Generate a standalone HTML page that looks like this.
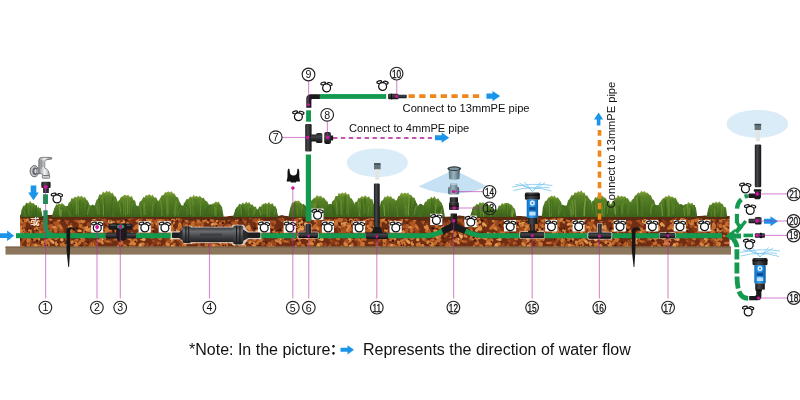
<!DOCTYPE html>
<html><head><meta charset="utf-8"><title>Irrigation system diagram</title>
<style>html,body{margin:0;padding:0;background:#fff}body{width:800px;height:400px;overflow:hidden}svg{display:block;will-change:transform}text{font-family:"Liberation Sans","Noto Sans CJK SC",sans-serif}</style></head>
<body><svg width="800" height="400" viewBox="0 0 800 400">
<defs><pattern id="soil" x="20" y="214" width="178" height="34" patternUnits="userSpaceOnUse"><rect width="178" height="34" fill="#6f2d14"/><ellipse cx="57.6" cy="5.1" rx="2.4" ry="1.1" fill="#98461b" transform="rotate(93 57.6 5.1)"/><ellipse cx="103.7" cy="30.9" rx="1.7" ry="1.1" fill="#b05621" transform="rotate(61 103.7 30.9)"/><ellipse cx="16.1" cy="14.4" rx="2.7" ry="1.1" fill="#d8853c" transform="rotate(160 16.1 14.4)"/><ellipse cx="103.8" cy="2.1" rx="2.3" ry="1.1" fill="#d8853c" transform="rotate(142 103.8 2.1)"/><ellipse cx="152.8" cy="9.8" rx="1.5" ry="1.1" fill="#b05621" transform="rotate(174 152.8 9.8)"/><ellipse cx="32.2" cy="19.8" rx="2.4" ry="1.4" fill="#98461b" transform="rotate(16 32.2 19.8)"/><ellipse cx="100.5" cy="21.0" rx="2.1" ry="1.6" fill="#a54f22" transform="rotate(119 100.5 21.0)"/><ellipse cx="104.2" cy="15.4" rx="1.8" ry="2.0" fill="#cc7633" transform="rotate(62 104.2 15.4)"/><ellipse cx="14.6" cy="10.2" rx="2.1" ry="1.4" fill="#e39b52" transform="rotate(155 14.6 10.2)"/><ellipse cx="174.5" cy="4.0" rx="2.0" ry="1.9" fill="#c56a2b" transform="rotate(125 174.5 4.0)"/><ellipse cx="-3.5" cy="4.0" rx="2.0" ry="1.9" fill="#c56a2b" transform="rotate(125 -3.5 4.0)"/><ellipse cx="75.1" cy="32.7" rx="1.4" ry="1.7" fill="#a54f22" transform="rotate(80 75.1 32.7)"/><ellipse cx="60.5" cy="11.9" rx="2.1" ry="2.0" fill="#c56a2b" transform="rotate(23 60.5 11.9)"/><ellipse cx="168.2" cy="16.1" rx="2.4" ry="1.1" fill="#cc7633" transform="rotate(165 168.2 16.1)"/><ellipse cx="102.9" cy="23.2" rx="2.1" ry="1.9" fill="#da8c44" transform="rotate(88 102.9 23.2)"/><ellipse cx="4.0" cy="15.7" rx="1.6" ry="1.1" fill="#c56a2b" transform="rotate(73 4.0 15.7)"/><ellipse cx="23.0" cy="8.4" rx="2.0" ry="2.0" fill="#c56a2b" transform="rotate(114 23.0 8.4)"/><ellipse cx="71.5" cy="9.4" rx="1.5" ry="1.5" fill="#98461b" transform="rotate(180 71.5 9.4)"/><ellipse cx="73.9" cy="12.2" rx="2.8" ry="2.1" fill="#c56a2b" transform="rotate(45 73.9 12.2)"/><ellipse cx="26.9" cy="22.4" rx="1.3" ry="2.0" fill="#d8853c" transform="rotate(72 26.9 22.4)"/><ellipse cx="0.7" cy="14.2" rx="1.9" ry="1.7" fill="#873815" transform="rotate(176 0.7 14.2)"/><ellipse cx="178.7" cy="14.2" rx="1.9" ry="1.7" fill="#873815" transform="rotate(176 178.7 14.2)"/><ellipse cx="152.9" cy="32.3" rx="2.4" ry="1.9" fill="#e39b52" transform="rotate(174 152.9 32.3)"/><ellipse cx="142.0" cy="13.3" rx="2.0" ry="1.1" fill="#cc7633" transform="rotate(15 142.0 13.3)"/><ellipse cx="33.9" cy="33.5" rx="2.0" ry="1.1" fill="#cc7633" transform="rotate(26 33.9 33.5)"/><ellipse cx="0.0" cy="5.1" rx="1.5" ry="1.4" fill="#c56a2b" transform="rotate(53 0.0 5.1)"/><ellipse cx="178.0" cy="5.1" rx="1.5" ry="1.4" fill="#c56a2b" transform="rotate(53 178.0 5.1)"/><ellipse cx="109.3" cy="5.1" rx="1.7" ry="1.4" fill="#b05621" transform="rotate(31 109.3 5.1)"/><ellipse cx="20.5" cy="16.6" rx="3.0" ry="1.6" fill="#b05621" transform="rotate(36 20.5 16.6)"/><ellipse cx="18.2" cy="11.6" rx="1.8" ry="2.0" fill="#d8853c" transform="rotate(5 18.2 11.6)"/><ellipse cx="36.5" cy="32.4" rx="1.9" ry="1.8" fill="#873815" transform="rotate(135 36.5 32.4)"/><ellipse cx="53.1" cy="21.9" rx="1.5" ry="2.0" fill="#98461b" transform="rotate(42 53.1 21.9)"/><ellipse cx="63.3" cy="7.6" rx="2.2" ry="1.6" fill="#cc7633" transform="rotate(156 63.3 7.6)"/><ellipse cx="144.4" cy="33.5" rx="2.7" ry="2.0" fill="#a54f22" transform="rotate(58 144.4 33.5)"/><ellipse cx="35.6" cy="16.8" rx="2.5" ry="2.2" fill="#a54f22" transform="rotate(120 35.6 16.8)"/><ellipse cx="46.1" cy="23.5" rx="2.9" ry="1.5" fill="#873815" transform="rotate(89 46.1 23.5)"/><ellipse cx="170.0" cy="12.4" rx="1.7" ry="1.3" fill="#d8853c" transform="rotate(52 170.0 12.4)"/><ellipse cx="85.9" cy="33.5" rx="2.3" ry="1.0" fill="#873815" transform="rotate(88 85.9 33.5)"/><ellipse cx="142.3" cy="2.9" rx="2.4" ry="2.1" fill="#a54f22" transform="rotate(51 142.3 2.9)"/><ellipse cx="85.1" cy="6.1" rx="2.6" ry="1.4" fill="#a54f22" transform="rotate(101 85.1 6.1)"/><ellipse cx="82.4" cy="25.3" rx="1.4" ry="1.2" fill="#ebb068" transform="rotate(7 82.4 25.3)"/><ellipse cx="26.9" cy="30.8" rx="2.7" ry="1.2" fill="#da8c44" transform="rotate(121 26.9 30.8)"/><ellipse cx="117.0" cy="11.9" rx="2.2" ry="1.2" fill="#c56a2b" transform="rotate(166 117.0 11.9)"/><ellipse cx="18.3" cy="25.5" rx="1.5" ry="2.2" fill="#d8853c" transform="rotate(54 18.3 25.5)"/><ellipse cx="5.0" cy="7.2" rx="2.2" ry="1.9" fill="#b05621" transform="rotate(139 5.0 7.2)"/><ellipse cx="74.6" cy="4.5" rx="2.8" ry="1.4" fill="#e39b52" transform="rotate(149 74.6 4.5)"/><ellipse cx="145.1" cy="17.6" rx="2.7" ry="2.1" fill="#c56a2b" transform="rotate(38 145.1 17.6)"/><ellipse cx="93.2" cy="0.6" rx="2.0" ry="1.2" fill="#c56a2b" transform="rotate(38 93.2 0.6)"/><ellipse cx="30.7" cy="16.1" rx="2.5" ry="1.7" fill="#b05621" transform="rotate(132 30.7 16.1)"/><ellipse cx="94.5" cy="16.4" rx="2.6" ry="2.1" fill="#c56a2b" transform="rotate(48 94.5 16.4)"/><ellipse cx="49.3" cy="26.3" rx="2.2" ry="1.7" fill="#a54f22" transform="rotate(16 49.3 26.3)"/><ellipse cx="78.9" cy="20.8" rx="2.2" ry="1.6" fill="#cc7633" transform="rotate(115 78.9 20.8)"/><ellipse cx="90.5" cy="27.5" rx="2.2" ry="1.3" fill="#98461b" transform="rotate(66 90.5 27.5)"/><ellipse cx="164.3" cy="30.4" rx="1.6" ry="1.5" fill="#b05621" transform="rotate(100 164.3 30.4)"/><ellipse cx="78.7" cy="2.5" rx="1.7" ry="1.1" fill="#cc7633" transform="rotate(31 78.7 2.5)"/><ellipse cx="159.7" cy="5.3" rx="2.5" ry="1.8" fill="#c56a2b" transform="rotate(35 159.7 5.3)"/><ellipse cx="172.2" cy="7.5" rx="2.9" ry="1.5" fill="#98461b" transform="rotate(170 172.2 7.5)"/><ellipse cx="148.2" cy="5.5" rx="2.0" ry="1.6" fill="#b05621" transform="rotate(50 148.2 5.5)"/><ellipse cx="63.5" cy="3.1" rx="1.9" ry="1.4" fill="#e39b52" transform="rotate(180 63.5 3.1)"/><ellipse cx="3.2" cy="11.3" rx="2.4" ry="1.6" fill="#c56a2b" transform="rotate(58 3.2 11.3)"/><ellipse cx="181.2" cy="11.3" rx="2.4" ry="1.6" fill="#c56a2b" transform="rotate(58 181.2 11.3)"/><ellipse cx="173.0" cy="3.6" rx="1.8" ry="1.0" fill="#a54f22" transform="rotate(69 173.0 3.6)"/><ellipse cx="134.5" cy="27.9" rx="2.7" ry="1.8" fill="#873815" transform="rotate(103 134.5 27.9)"/><ellipse cx="26.6" cy="31.3" rx="2.3" ry="1.8" fill="#c56a2b" transform="rotate(14 26.6 31.3)"/><ellipse cx="142.3" cy="6.2" rx="2.8" ry="1.3" fill="#c56a2b" transform="rotate(22 142.3 6.2)"/><ellipse cx="142.7" cy="2.8" rx="2.8" ry="1.1" fill="#da8c44" transform="rotate(116 142.7 2.8)"/><ellipse cx="2.1" cy="33.8" rx="2.0" ry="2.1" fill="#cc7633" transform="rotate(11 2.1 33.8)"/><ellipse cx="180.1" cy="33.8" rx="2.0" ry="2.1" fill="#cc7633" transform="rotate(11 180.1 33.8)"/><ellipse cx="93.8" cy="8.1" rx="1.5" ry="1.2" fill="#c56a2b" transform="rotate(51 93.8 8.1)"/><ellipse cx="165.9" cy="21.4" rx="2.2" ry="1.2" fill="#e39b52" transform="rotate(172 165.9 21.4)"/><ellipse cx="31.7" cy="11.8" rx="1.3" ry="1.3" fill="#c56a2b" transform="rotate(129 31.7 11.8)"/><ellipse cx="98.1" cy="6.4" rx="2.1" ry="2.1" fill="#c56a2b" transform="rotate(166 98.1 6.4)"/><ellipse cx="76.9" cy="16.8" rx="2.7" ry="1.5" fill="#98461b" transform="rotate(176 76.9 16.8)"/><ellipse cx="38.3" cy="7.8" rx="1.6" ry="2.1" fill="#a54f22" transform="rotate(35 38.3 7.8)"/><ellipse cx="72.0" cy="11.8" rx="1.4" ry="1.2" fill="#c56a2b" transform="rotate(65 72.0 11.8)"/><ellipse cx="76.7" cy="1.9" rx="2.4" ry="1.5" fill="#98461b" transform="rotate(72 76.7 1.9)"/><ellipse cx="106.6" cy="23.6" rx="1.4" ry="1.2" fill="#d8853c" transform="rotate(0 106.6 23.6)"/><ellipse cx="46.9" cy="32.7" rx="3.0" ry="1.7" fill="#d8853c" transform="rotate(79 46.9 32.7)"/><ellipse cx="38.8" cy="6.2" rx="1.9" ry="1.1" fill="#d8853c" transform="rotate(167 38.8 6.2)"/><ellipse cx="35.8" cy="17.2" rx="1.3" ry="1.3" fill="#c56a2b" transform="rotate(102 35.8 17.2)"/><ellipse cx="104.5" cy="13.4" rx="1.8" ry="1.8" fill="#c56a2b" transform="rotate(135 104.5 13.4)"/><ellipse cx="151.9" cy="5.3" rx="2.8" ry="1.9" fill="#cc7633" transform="rotate(83 151.9 5.3)"/><ellipse cx="128.3" cy="16.8" rx="1.8" ry="1.7" fill="#c56a2b" transform="rotate(131 128.3 16.8)"/><ellipse cx="111.7" cy="25.0" rx="2.7" ry="1.2" fill="#98461b" transform="rotate(129 111.7 25.0)"/><ellipse cx="101.2" cy="27.6" rx="1.3" ry="1.8" fill="#a54f22" transform="rotate(174 101.2 27.6)"/><ellipse cx="170.2" cy="21.9" rx="1.4" ry="1.1" fill="#cc7633" transform="rotate(26 170.2 21.9)"/><ellipse cx="67.0" cy="15.3" rx="1.4" ry="1.0" fill="#98461b" transform="rotate(62 67.0 15.3)"/><ellipse cx="87.1" cy="0.1" rx="2.7" ry="1.9" fill="#98461b" transform="rotate(137 87.1 0.1)"/><ellipse cx="16.4" cy="17.9" rx="2.6" ry="1.6" fill="#a54f22" transform="rotate(67 16.4 17.9)"/><ellipse cx="41.8" cy="25.7" rx="1.7" ry="1.8" fill="#e39b52" transform="rotate(97 41.8 25.7)"/><ellipse cx="13.7" cy="31.0" rx="1.8" ry="1.1" fill="#cc7633" transform="rotate(50 13.7 31.0)"/><ellipse cx="13.8" cy="5.0" rx="1.7" ry="1.9" fill="#b05621" transform="rotate(145 13.8 5.0)"/><ellipse cx="23.8" cy="16.4" rx="2.1" ry="2.2" fill="#c56a2b" transform="rotate(55 23.8 16.4)"/><ellipse cx="120.3" cy="9.9" rx="2.2" ry="1.6" fill="#e39b52" transform="rotate(30 120.3 9.9)"/><ellipse cx="176.8" cy="18.7" rx="1.8" ry="1.1" fill="#e39b52" transform="rotate(74 176.8 18.7)"/><ellipse cx="-1.2" cy="18.7" rx="1.8" ry="1.1" fill="#e39b52" transform="rotate(74 -1.2 18.7)"/><ellipse cx="81.7" cy="27.9" rx="2.9" ry="1.5" fill="#d8853c" transform="rotate(53 81.7 27.9)"/><ellipse cx="163.1" cy="31.6" rx="1.4" ry="1.1" fill="#a54f22" transform="rotate(67 163.1 31.6)"/><ellipse cx="169.6" cy="4.5" rx="2.7" ry="1.6" fill="#da8c44" transform="rotate(180 169.6 4.5)"/><ellipse cx="65.0" cy="16.9" rx="2.8" ry="1.5" fill="#c56a2b" transform="rotate(125 65.0 16.9)"/><ellipse cx="121.3" cy="13.8" rx="2.5" ry="1.5" fill="#b05621" transform="rotate(30 121.3 13.8)"/><ellipse cx="149.6" cy="0.1" rx="2.6" ry="2.0" fill="#c56a2b" transform="rotate(50 149.6 0.1)"/><ellipse cx="126.9" cy="30.7" rx="1.8" ry="1.4" fill="#b05621" transform="rotate(150 126.9 30.7)"/><ellipse cx="13.6" cy="31.5" rx="2.6" ry="2.0" fill="#b05621" transform="rotate(13 13.6 31.5)"/><ellipse cx="148.6" cy="9.7" rx="2.9" ry="1.3" fill="#d8853c" transform="rotate(130 148.6 9.7)"/><ellipse cx="56.2" cy="26.3" rx="2.6" ry="1.5" fill="#c56a2b" transform="rotate(161 56.2 26.3)"/><ellipse cx="71.2" cy="29.8" rx="2.2" ry="1.2" fill="#c56a2b" transform="rotate(105 71.2 29.8)"/><ellipse cx="80.3" cy="25.6" rx="2.4" ry="1.3" fill="#c56a2b" transform="rotate(140 80.3 25.6)"/><ellipse cx="22.7" cy="16.1" rx="1.9" ry="1.4" fill="#a54f22" transform="rotate(167 22.7 16.1)"/><ellipse cx="46.3" cy="22.3" rx="1.8" ry="1.7" fill="#b05621" transform="rotate(42 46.3 22.3)"/><ellipse cx="114.5" cy="2.6" rx="2.2" ry="2.0" fill="#98461b" transform="rotate(115 114.5 2.6)"/><ellipse cx="161.3" cy="33.9" rx="2.1" ry="1.2" fill="#d8853c" transform="rotate(23 161.3 33.9)"/><ellipse cx="31.1" cy="18.9" rx="1.8" ry="1.4" fill="#a54f22" transform="rotate(51 31.1 18.9)"/><ellipse cx="157.9" cy="25.5" rx="2.0" ry="1.5" fill="#98461b" transform="rotate(96 157.9 25.5)"/><ellipse cx="48.1" cy="25.6" rx="2.1" ry="1.7" fill="#b05621" transform="rotate(175 48.1 25.6)"/><ellipse cx="89.6" cy="21.4" rx="2.8" ry="1.3" fill="#d8853c" transform="rotate(63 89.6 21.4)"/><ellipse cx="68.5" cy="22.0" rx="2.0" ry="1.4" fill="#a54f22" transform="rotate(5 68.5 22.0)"/><ellipse cx="22.6" cy="14.5" rx="2.6" ry="2.0" fill="#873815" transform="rotate(125 22.6 14.5)"/><ellipse cx="0.0" cy="13.3" rx="2.9" ry="2.0" fill="#da8c44" transform="rotate(114 0.0 13.3)"/><ellipse cx="178.0" cy="13.3" rx="2.9" ry="2.0" fill="#da8c44" transform="rotate(114 178.0 13.3)"/><ellipse cx="44.2" cy="3.7" rx="1.6" ry="1.6" fill="#cc7633" transform="rotate(179 44.2 3.7)"/><ellipse cx="115.2" cy="26.0" rx="2.1" ry="1.7" fill="#c56a2b" transform="rotate(32 115.2 26.0)"/><ellipse cx="41.4" cy="31.3" rx="2.4" ry="1.4" fill="#c56a2b" transform="rotate(64 41.4 31.3)"/><ellipse cx="94.0" cy="14.9" rx="2.6" ry="1.1" fill="#b05621" transform="rotate(149 94.0 14.9)"/><ellipse cx="34.1" cy="8.9" rx="2.6" ry="1.0" fill="#98461b" transform="rotate(117 34.1 8.9)"/><ellipse cx="49.6" cy="10.8" rx="2.7" ry="1.3" fill="#98461b" transform="rotate(140 49.6 10.8)"/><ellipse cx="44.0" cy="32.7" rx="2.5" ry="1.4" fill="#c56a2b" transform="rotate(127 44.0 32.7)"/><ellipse cx="157.5" cy="22.0" rx="1.4" ry="1.3" fill="#e39b52" transform="rotate(94 157.5 22.0)"/><ellipse cx="40.4" cy="1.2" rx="1.9" ry="1.5" fill="#cc7633" transform="rotate(50 40.4 1.2)"/><ellipse cx="1.2" cy="9.9" rx="2.7" ry="1.1" fill="#98461b" transform="rotate(51 1.2 9.9)"/><ellipse cx="179.2" cy="9.9" rx="2.7" ry="1.1" fill="#98461b" transform="rotate(51 179.2 9.9)"/><ellipse cx="55.5" cy="27.9" rx="1.7" ry="1.3" fill="#a54f22" transform="rotate(75 55.5 27.9)"/><ellipse cx="19.4" cy="21.2" rx="2.3" ry="2.1" fill="#98461b" transform="rotate(170 19.4 21.2)"/><ellipse cx="10.0" cy="20.2" rx="2.9" ry="1.1" fill="#c56a2b" transform="rotate(152 10.0 20.2)"/><ellipse cx="25.3" cy="1.8" rx="1.4" ry="1.5" fill="#da8c44" transform="rotate(80 25.3 1.8)"/><ellipse cx="130.4" cy="33.9" rx="2.9" ry="1.4" fill="#d8853c" transform="rotate(134 130.4 33.9)"/><ellipse cx="132.8" cy="1.1" rx="2.4" ry="1.5" fill="#b05621" transform="rotate(84 132.8 1.1)"/><ellipse cx="78.8" cy="3.7" rx="1.4" ry="1.1" fill="#e39b52" transform="rotate(31 78.8 3.7)"/><ellipse cx="99.9" cy="25.8" rx="1.9" ry="1.9" fill="#b05621" transform="rotate(110 99.9 25.8)"/><ellipse cx="15.6" cy="24.0" rx="1.6" ry="1.6" fill="#e39b52" transform="rotate(82 15.6 24.0)"/><ellipse cx="64.8" cy="30.5" rx="1.4" ry="1.5" fill="#a54f22" transform="rotate(103 64.8 30.5)"/><ellipse cx="7.2" cy="1.2" rx="1.4" ry="2.1" fill="#d8853c" transform="rotate(16 7.2 1.2)"/><ellipse cx="159.9" cy="11.5" rx="1.8" ry="2.1" fill="#cc7633" transform="rotate(67 159.9 11.5)"/><ellipse cx="132.9" cy="23.4" rx="2.9" ry="1.4" fill="#a54f22" transform="rotate(152 132.9 23.4)"/><ellipse cx="163.1" cy="21.6" rx="2.9" ry="1.0" fill="#d8853c" transform="rotate(121 163.1 21.6)"/><ellipse cx="127.4" cy="15.8" rx="2.6" ry="1.9" fill="#873815" transform="rotate(126 127.4 15.8)"/><ellipse cx="23.6" cy="16.9" rx="1.3" ry="2.1" fill="#b05621" transform="rotate(177 23.6 16.9)"/><ellipse cx="137.6" cy="20.6" rx="1.9" ry="1.4" fill="#b05621" transform="rotate(152 137.6 20.6)"/><ellipse cx="14.1" cy="6.7" rx="2.6" ry="1.3" fill="#c56a2b" transform="rotate(8 14.1 6.7)"/><ellipse cx="85.7" cy="18.5" rx="1.6" ry="1.5" fill="#c56a2b" transform="rotate(18 85.7 18.5)"/><ellipse cx="47.2" cy="2.9" rx="1.5" ry="1.6" fill="#cc7633" transform="rotate(114 47.2 2.9)"/><ellipse cx="30.8" cy="4.5" rx="2.1" ry="2.1" fill="#d8853c" transform="rotate(137 30.8 4.5)"/><ellipse cx="150.8" cy="22.6" rx="1.5" ry="2.0" fill="#b05621" transform="rotate(145 150.8 22.6)"/><ellipse cx="47.6" cy="8.6" rx="1.7" ry="1.5" fill="#d8853c" transform="rotate(60 47.6 8.6)"/><ellipse cx="27.3" cy="30.1" rx="2.3" ry="1.4" fill="#b05621" transform="rotate(62 27.3 30.1)"/><ellipse cx="90.3" cy="7.9" rx="2.7" ry="1.8" fill="#ebb068" transform="rotate(26 90.3 7.9)"/><ellipse cx="0.8" cy="30.0" rx="1.7" ry="1.5" fill="#b05621" transform="rotate(75 0.8 30.0)"/><ellipse cx="178.8" cy="30.0" rx="1.7" ry="1.5" fill="#b05621" transform="rotate(75 178.8 30.0)"/><ellipse cx="41.5" cy="1.7" rx="2.3" ry="2.0" fill="#d8853c" transform="rotate(19 41.5 1.7)"/><ellipse cx="66.3" cy="29.4" rx="2.1" ry="1.3" fill="#a54f22" transform="rotate(1 66.3 29.4)"/><ellipse cx="18.8" cy="20.3" rx="2.4" ry="1.3" fill="#b05621" transform="rotate(36 18.8 20.3)"/><ellipse cx="7.9" cy="34.0" rx="1.4" ry="1.9" fill="#873815" transform="rotate(2 7.9 34.0)"/><ellipse cx="145.8" cy="13.9" rx="1.9" ry="1.7" fill="#c56a2b" transform="rotate(8 145.8 13.9)"/><ellipse cx="141.6" cy="18.6" rx="1.4" ry="1.1" fill="#b05621" transform="rotate(140 141.6 18.6)"/><ellipse cx="27.5" cy="18.2" rx="2.4" ry="1.5" fill="#d8853c" transform="rotate(72 27.5 18.2)"/><ellipse cx="118.9" cy="14.2" rx="1.4" ry="1.9" fill="#da8c44" transform="rotate(106 118.9 14.2)"/><ellipse cx="74.1" cy="29.4" rx="3.0" ry="1.4" fill="#d8853c" transform="rotate(103 74.1 29.4)"/><ellipse cx="36.3" cy="0.2" rx="2.8" ry="1.5" fill="#da8c44" transform="rotate(103 36.3 0.2)"/><ellipse cx="102.8" cy="12.4" rx="2.6" ry="1.2" fill="#c56a2b" transform="rotate(36 102.8 12.4)"/><ellipse cx="114.0" cy="30.9" rx="1.5" ry="1.7" fill="#b05621" transform="rotate(129 114.0 30.9)"/><ellipse cx="30.6" cy="11.8" rx="1.6" ry="1.2" fill="#c56a2b" transform="rotate(98 30.6 11.8)"/><ellipse cx="87.3" cy="27.4" rx="2.9" ry="1.2" fill="#c56a2b" transform="rotate(11 87.3 27.4)"/><ellipse cx="173.6" cy="16.4" rx="1.4" ry="2.1" fill="#b05621" transform="rotate(158 173.6 16.4)"/><ellipse cx="122.5" cy="30.3" rx="2.4" ry="2.0" fill="#cc7633" transform="rotate(157 122.5 30.3)"/><ellipse cx="150.7" cy="28.2" rx="1.6" ry="1.3" fill="#b05621" transform="rotate(132 150.7 28.2)"/><ellipse cx="27.9" cy="12.2" rx="1.6" ry="2.2" fill="#a54f22" transform="rotate(49 27.9 12.2)"/><ellipse cx="7.3" cy="19.1" rx="2.6" ry="1.0" fill="#da8c44" transform="rotate(30 7.3 19.1)"/><ellipse cx="69.4" cy="15.5" rx="2.7" ry="1.9" fill="#cc7633" transform="rotate(78 69.4 15.5)"/><ellipse cx="103.7" cy="14.5" rx="2.4" ry="1.5" fill="#e39b52" transform="rotate(5 103.7 14.5)"/><ellipse cx="0.6" cy="33.5" rx="2.1" ry="1.5" fill="#cc7633" transform="rotate(117 0.6 33.5)"/><ellipse cx="178.6" cy="33.5" rx="2.1" ry="1.5" fill="#cc7633" transform="rotate(117 178.6 33.5)"/><ellipse cx="148.9" cy="27.6" rx="2.0" ry="1.1" fill="#b05621" transform="rotate(93 148.9 27.6)"/><ellipse cx="16.3" cy="15.0" rx="2.2" ry="1.0" fill="#cc7633" transform="rotate(21 16.3 15.0)"/><ellipse cx="164.1" cy="10.7" rx="2.5" ry="1.1" fill="#a54f22" transform="rotate(96 164.1 10.7)"/><ellipse cx="116.2" cy="26.7" rx="1.3" ry="1.1" fill="#cc7633" transform="rotate(177 116.2 26.7)"/><ellipse cx="145.1" cy="6.6" rx="3.0" ry="1.6" fill="#873815" transform="rotate(42 145.1 6.6)"/><ellipse cx="122.1" cy="24.5" rx="1.7" ry="2.0" fill="#cc7633" transform="rotate(64 122.1 24.5)"/><ellipse cx="28.3" cy="30.5" rx="1.8" ry="2.0" fill="#c56a2b" transform="rotate(128 28.3 30.5)"/><ellipse cx="171.7" cy="16.3" rx="2.3" ry="1.7" fill="#d8853c" transform="rotate(95 171.7 16.3)"/><ellipse cx="6.6" cy="6.2" rx="1.6" ry="2.1" fill="#cc7633" transform="rotate(96 6.6 6.2)"/><ellipse cx="30.0" cy="26.7" rx="1.5" ry="1.6" fill="#cc7633" transform="rotate(92 30.0 26.7)"/><ellipse cx="172.0" cy="15.4" rx="2.2" ry="1.8" fill="#da8c44" transform="rotate(64 172.0 15.4)"/><ellipse cx="176.7" cy="21.4" rx="2.0" ry="2.0" fill="#d8853c" transform="rotate(94 176.7 21.4)"/><ellipse cx="-1.3" cy="21.4" rx="2.0" ry="2.0" fill="#d8853c" transform="rotate(94 -1.3 21.4)"/><ellipse cx="102.8" cy="12.2" rx="2.6" ry="1.5" fill="#d8853c" transform="rotate(12 102.8 12.2)"/><ellipse cx="52.8" cy="17.5" rx="1.8" ry="2.2" fill="#da8c44" transform="rotate(169 52.8 17.5)"/><ellipse cx="159.4" cy="24.9" rx="2.6" ry="1.3" fill="#b05621" transform="rotate(160 159.4 24.9)"/><ellipse cx="76.9" cy="17.4" rx="2.8" ry="1.2" fill="#d8853c" transform="rotate(167 76.9 17.4)"/><ellipse cx="8.1" cy="1.8" rx="2.3" ry="1.4" fill="#98461b" transform="rotate(136 8.1 1.8)"/><ellipse cx="39.9" cy="19.8" rx="2.3" ry="1.2" fill="#cc7633" transform="rotate(121 39.9 19.8)"/><ellipse cx="28.2" cy="0.5" rx="2.7" ry="1.8" fill="#e39b52" transform="rotate(16 28.2 0.5)"/><ellipse cx="113.6" cy="29.6" rx="2.6" ry="1.5" fill="#d8853c" transform="rotate(2 113.6 29.6)"/><ellipse cx="10.0" cy="27.9" rx="2.8" ry="1.7" fill="#98461b" transform="rotate(154 10.0 27.9)"/><ellipse cx="166.8" cy="24.9" rx="1.7" ry="2.1" fill="#c56a2b" transform="rotate(136 166.8 24.9)"/><ellipse cx="4.5" cy="6.3" rx="1.6" ry="2.1" fill="#c56a2b" transform="rotate(156 4.5 6.3)"/><ellipse cx="98.1" cy="32.0" rx="1.5" ry="1.2" fill="#cc7633" transform="rotate(129 98.1 32.0)"/><ellipse cx="115.3" cy="14.1" rx="2.3" ry="1.6" fill="#c56a2b" transform="rotate(160 115.3 14.1)"/><ellipse cx="8.6" cy="30.2" rx="2.6" ry="1.9" fill="#c56a2b" transform="rotate(111 8.6 30.2)"/><ellipse cx="132.6" cy="15.8" rx="2.6" ry="1.5" fill="#d8853c" transform="rotate(26 132.6 15.8)"/><ellipse cx="46.5" cy="21.9" rx="1.5" ry="2.1" fill="#873815" transform="rotate(67 46.5 21.9)"/><ellipse cx="126.7" cy="9.0" rx="2.2" ry="1.5" fill="#a54f22" transform="rotate(133 126.7 9.0)"/><ellipse cx="173.0" cy="10.1" rx="2.9" ry="2.1" fill="#c56a2b" transform="rotate(129 173.0 10.1)"/><ellipse cx="2.7" cy="8.9" rx="1.7" ry="1.9" fill="#873815" transform="rotate(83 2.7 8.9)"/><ellipse cx="180.7" cy="8.9" rx="1.7" ry="1.9" fill="#873815" transform="rotate(83 180.7 8.9)"/><ellipse cx="34.2" cy="13.2" rx="2.3" ry="1.5" fill="#da8c44" transform="rotate(177 34.2 13.2)"/><ellipse cx="174.7" cy="28.6" rx="2.2" ry="1.6" fill="#98461b" transform="rotate(1 174.7 28.6)"/><ellipse cx="-3.3" cy="28.6" rx="2.2" ry="1.6" fill="#98461b" transform="rotate(1 -3.3 28.6)"/><ellipse cx="152.6" cy="14.9" rx="2.5" ry="1.7" fill="#b05621" transform="rotate(54 152.6 14.9)"/><ellipse cx="69.7" cy="19.9" rx="2.3" ry="1.2" fill="#c56a2b" transform="rotate(28 69.7 19.9)"/><ellipse cx="19.0" cy="31.6" rx="1.9" ry="1.2" fill="#c56a2b" transform="rotate(10 19.0 31.6)"/><ellipse cx="24.6" cy="21.9" rx="1.4" ry="1.1" fill="#c56a2b" transform="rotate(151 24.6 21.9)"/><ellipse cx="135.6" cy="6.8" rx="2.9" ry="1.6" fill="#cc7633" transform="rotate(98 135.6 6.8)"/><ellipse cx="19.1" cy="7.0" rx="1.5" ry="1.0" fill="#da8c44" transform="rotate(162 19.1 7.0)"/><ellipse cx="15.6" cy="25.5" rx="2.4" ry="1.6" fill="#c56a2b" transform="rotate(165 15.6 25.5)"/><ellipse cx="36.5" cy="10.9" rx="2.0" ry="1.0" fill="#d8853c" transform="rotate(72 36.5 10.9)"/><ellipse cx="8.6" cy="25.8" rx="2.8" ry="1.9" fill="#cc7633" transform="rotate(121 8.6 25.8)"/><ellipse cx="151.5" cy="21.0" rx="1.4" ry="1.5" fill="#e39b52" transform="rotate(25 151.5 21.0)"/><ellipse cx="61.7" cy="24.0" rx="2.2" ry="1.3" fill="#da8c44" transform="rotate(23 61.7 24.0)"/><ellipse cx="102.3" cy="9.8" rx="2.0" ry="1.6" fill="#b05621" transform="rotate(13 102.3 9.8)"/><ellipse cx="0.8" cy="16.7" rx="2.1" ry="2.0" fill="#d8853c" transform="rotate(126 0.8 16.7)"/><ellipse cx="178.8" cy="16.7" rx="2.1" ry="2.0" fill="#d8853c" transform="rotate(126 178.8 16.7)"/><ellipse cx="105.5" cy="32.5" rx="2.2" ry="1.7" fill="#c56a2b" transform="rotate(54 105.5 32.5)"/><ellipse cx="167.0" cy="7.9" rx="1.6" ry="2.1" fill="#a54f22" transform="rotate(125 167.0 7.9)"/><ellipse cx="140.2" cy="23.7" rx="2.6" ry="1.8" fill="#b05621" transform="rotate(102 140.2 23.7)"/><ellipse cx="165.3" cy="30.3" rx="2.6" ry="1.5" fill="#cc7633" transform="rotate(95 165.3 30.3)"/><ellipse cx="36.7" cy="8.9" rx="2.8" ry="1.6" fill="#b05621" transform="rotate(161 36.7 8.9)"/><ellipse cx="41.6" cy="15.7" rx="2.2" ry="1.9" fill="#a54f22" transform="rotate(165 41.6 15.7)"/><ellipse cx="6.0" cy="19.8" rx="2.2" ry="2.0" fill="#e39b52" transform="rotate(141 6.0 19.8)"/><ellipse cx="132.1" cy="5.8" rx="2.0" ry="1.9" fill="#98461b" transform="rotate(32 132.1 5.8)"/><ellipse cx="59.5" cy="21.9" rx="2.5" ry="1.6" fill="#d8853c" transform="rotate(180 59.5 21.9)"/><ellipse cx="147.1" cy="21.0" rx="2.5" ry="2.2" fill="#a54f22" transform="rotate(154 147.1 21.0)"/><ellipse cx="92.9" cy="5.5" rx="1.9" ry="1.2" fill="#873815" transform="rotate(26 92.9 5.5)"/><ellipse cx="29.3" cy="22.4" rx="1.6" ry="1.2" fill="#c56a2b" transform="rotate(77 29.3 22.4)"/><ellipse cx="130.5" cy="14.8" rx="1.6" ry="1.8" fill="#c56a2b" transform="rotate(52 130.5 14.8)"/><ellipse cx="157.6" cy="15.8" rx="1.3" ry="2.0" fill="#e39b52" transform="rotate(56 157.6 15.8)"/><ellipse cx="89.1" cy="21.5" rx="2.1" ry="1.2" fill="#cc7633" transform="rotate(103 89.1 21.5)"/><ellipse cx="1.0" cy="8.2" rx="2.7" ry="1.8" fill="#cc7633" transform="rotate(165 1.0 8.2)"/><ellipse cx="179.0" cy="8.2" rx="2.7" ry="1.8" fill="#cc7633" transform="rotate(165 179.0 8.2)"/><ellipse cx="75.0" cy="7.8" rx="2.5" ry="2.1" fill="#a54f22" transform="rotate(179 75.0 7.8)"/><ellipse cx="103.9" cy="7.8" rx="1.6" ry="1.1" fill="#e39b52" transform="rotate(66 103.9 7.8)"/><ellipse cx="111.8" cy="3.3" rx="2.0" ry="1.9" fill="#cc7633" transform="rotate(161 111.8 3.3)"/><ellipse cx="27.8" cy="28.9" rx="2.1" ry="1.0" fill="#da8c44" transform="rotate(132 27.8 28.9)"/><ellipse cx="120.2" cy="31.6" rx="1.6" ry="1.8" fill="#a54f22" transform="rotate(99 120.2 31.6)"/><ellipse cx="148.1" cy="30.9" rx="1.5" ry="1.3" fill="#d8853c" transform="rotate(51 148.1 30.9)"/><ellipse cx="92.4" cy="3.4" rx="2.3" ry="1.6" fill="#cc7633" transform="rotate(131 92.4 3.4)"/><ellipse cx="2.9" cy="26.9" rx="1.9" ry="1.4" fill="#a54f22" transform="rotate(116 2.9 26.9)"/><ellipse cx="180.9" cy="26.9" rx="1.9" ry="1.4" fill="#a54f22" transform="rotate(116 180.9 26.9)"/><ellipse cx="37.4" cy="23.3" rx="2.0" ry="1.9" fill="#c56a2b" transform="rotate(157 37.4 23.3)"/><ellipse cx="63.3" cy="1.9" rx="1.8" ry="1.5" fill="#c56a2b" transform="rotate(107 63.3 1.9)"/><ellipse cx="162.9" cy="21.4" rx="2.4" ry="1.7" fill="#c56a2b" transform="rotate(77 162.9 21.4)"/><ellipse cx="132.0" cy="32.0" rx="2.2" ry="1.3" fill="#a54f22" transform="rotate(100 132.0 32.0)"/><ellipse cx="82.3" cy="5.6" rx="2.9" ry="1.1" fill="#a54f22" transform="rotate(49 82.3 5.6)"/><ellipse cx="83.5" cy="19.1" rx="1.7" ry="2.2" fill="#b05621" transform="rotate(163 83.5 19.1)"/><ellipse cx="147.9" cy="27.0" rx="2.0" ry="2.2" fill="#a54f22" transform="rotate(166 147.9 27.0)"/><ellipse cx="22.3" cy="28.3" rx="1.9" ry="2.0" fill="#d8853c" transform="rotate(96 22.3 28.3)"/><ellipse cx="122.4" cy="33.4" rx="2.5" ry="1.6" fill="#a54f22" transform="rotate(71 122.4 33.4)"/><ellipse cx="63.7" cy="22.2" rx="1.8" ry="1.6" fill="#cc7633" transform="rotate(21 63.7 22.2)"/><ellipse cx="117.3" cy="12.3" rx="2.9" ry="2.0" fill="#c56a2b" transform="rotate(144 117.3 12.3)"/><ellipse cx="161.2" cy="26.7" rx="1.5" ry="2.0" fill="#cc7633" transform="rotate(3 161.2 26.7)"/><ellipse cx="117.0" cy="7.1" rx="1.4" ry="1.4" fill="#cc7633" transform="rotate(148 117.0 7.1)"/><ellipse cx="25.4" cy="7.9" rx="2.6" ry="1.4" fill="#c56a2b" transform="rotate(103 25.4 7.9)"/><ellipse cx="140.9" cy="5.7" rx="2.8" ry="1.7" fill="#a54f22" transform="rotate(171 140.9 5.7)"/><ellipse cx="160.5" cy="18.6" rx="2.4" ry="1.4" fill="#98461b" transform="rotate(54 160.5 18.6)"/><ellipse cx="94.5" cy="25.2" rx="2.0" ry="2.1" fill="#98461b" transform="rotate(67 94.5 25.2)"/><ellipse cx="74.6" cy="28.1" rx="2.1" ry="1.7" fill="#98461b" transform="rotate(36 74.6 28.1)"/><ellipse cx="124.7" cy="8.4" rx="1.6" ry="1.7" fill="#a54f22" transform="rotate(41 124.7 8.4)"/><ellipse cx="149.7" cy="15.9" rx="2.3" ry="1.8" fill="#da8c44" transform="rotate(95 149.7 15.9)"/><ellipse cx="75.8" cy="34.0" rx="2.4" ry="1.2" fill="#b05621" transform="rotate(165 75.8 34.0)"/><ellipse cx="5.1" cy="20.7" rx="2.5" ry="2.1" fill="#b05621" transform="rotate(24 5.1 20.7)"/><ellipse cx="90.9" cy="16.5" rx="2.8" ry="1.0" fill="#cc7633" transform="rotate(160 90.9 16.5)"/><ellipse cx="22.6" cy="3.2" rx="2.4" ry="1.4" fill="#a54f22" transform="rotate(141 22.6 3.2)"/><ellipse cx="137.2" cy="7.2" rx="2.0" ry="1.5" fill="#98461b" transform="rotate(74 137.2 7.2)"/><ellipse cx="52.1" cy="28.1" rx="2.0" ry="1.6" fill="#d8853c" transform="rotate(129 52.1 28.1)"/><ellipse cx="61.4" cy="6.9" rx="2.1" ry="1.1" fill="#d8853c" transform="rotate(76 61.4 6.9)"/><ellipse cx="22.7" cy="33.1" rx="1.4" ry="2.2" fill="#b05621" transform="rotate(141 22.7 33.1)"/><ellipse cx="157.6" cy="18.5" rx="1.4" ry="1.4" fill="#c56a2b" transform="rotate(48 157.6 18.5)"/><ellipse cx="146.3" cy="16.2" rx="2.6" ry="1.1" fill="#98461b" transform="rotate(139 146.3 16.2)"/><ellipse cx="108.9" cy="21.0" rx="2.4" ry="1.8" fill="#cc7633" transform="rotate(174 108.9 21.0)"/><ellipse cx="14.8" cy="1.3" rx="2.4" ry="1.8" fill="#d8853c" transform="rotate(169 14.8 1.3)"/><ellipse cx="32.3" cy="1.3" rx="2.6" ry="2.1" fill="#cc7633" transform="rotate(94 32.3 1.3)"/><ellipse cx="155.2" cy="4.7" rx="1.8" ry="1.9" fill="#da8c44" transform="rotate(47 155.2 4.7)"/><ellipse cx="75.1" cy="10.8" rx="2.0" ry="1.8" fill="#873815" transform="rotate(13 75.1 10.8)"/><ellipse cx="88.6" cy="17.8" rx="2.7" ry="1.9" fill="#e39b52" transform="rotate(178 88.6 17.8)"/><ellipse cx="163.5" cy="15.2" rx="1.3" ry="1.5" fill="#cc7633" transform="rotate(168 163.5 15.2)"/><ellipse cx="174.6" cy="16.2" rx="2.0" ry="1.1" fill="#cc7633" transform="rotate(54 174.6 16.2)"/><ellipse cx="-3.4" cy="16.2" rx="2.0" ry="1.1" fill="#cc7633" transform="rotate(54 -3.4 16.2)"/><ellipse cx="159.4" cy="21.3" rx="2.0" ry="1.0" fill="#cc7633" transform="rotate(22 159.4 21.3)"/><ellipse cx="38.8" cy="4.1" rx="2.1" ry="1.3" fill="#98461b" transform="rotate(115 38.8 4.1)"/><ellipse cx="130.6" cy="6.4" rx="1.4" ry="1.9" fill="#cc7633" transform="rotate(37 130.6 6.4)"/><ellipse cx="129.9" cy="2.9" rx="2.4" ry="1.9" fill="#e39b52" transform="rotate(65 129.9 2.9)"/><ellipse cx="162.6" cy="1.8" rx="1.4" ry="1.1" fill="#da8c44" transform="rotate(175 162.6 1.8)"/><ellipse cx="145.5" cy="2.7" rx="1.8" ry="1.9" fill="#d8853c" transform="rotate(124 145.5 2.7)"/><ellipse cx="108.4" cy="10.8" rx="2.9" ry="1.9" fill="#e39b52" transform="rotate(42 108.4 10.8)"/><ellipse cx="25.8" cy="27.1" rx="1.9" ry="1.8" fill="#cc7633" transform="rotate(106 25.8 27.1)"/><ellipse cx="84.9" cy="26.5" rx="2.1" ry="1.3" fill="#a54f22" transform="rotate(85 84.9 26.5)"/><ellipse cx="52.0" cy="2.1" rx="3.0" ry="1.8" fill="#da8c44" transform="rotate(85 52.0 2.1)"/><ellipse cx="154.8" cy="24.7" rx="1.3" ry="1.2" fill="#da8c44" transform="rotate(149 154.8 24.7)"/><ellipse cx="76.3" cy="30.2" rx="1.9" ry="1.8" fill="#cc7633" transform="rotate(59 76.3 30.2)"/><ellipse cx="143.7" cy="9.6" rx="1.3" ry="1.3" fill="#e39b52" transform="rotate(150 143.7 9.6)"/><ellipse cx="163.9" cy="26.0" rx="2.6" ry="1.3" fill="#c56a2b" transform="rotate(146 163.9 26.0)"/><ellipse cx="26.2" cy="33.2" rx="2.7" ry="1.7" fill="#a54f22" transform="rotate(127 26.2 33.2)"/><ellipse cx="61.7" cy="2.9" rx="2.2" ry="2.0" fill="#d8853c" transform="rotate(59 61.7 2.9)"/><ellipse cx="55.1" cy="2.0" rx="2.0" ry="1.9" fill="#873815" transform="rotate(150 55.1 2.0)"/><ellipse cx="133.7" cy="26.9" rx="2.1" ry="1.1" fill="#a54f22" transform="rotate(16 133.7 26.9)"/><ellipse cx="41.5" cy="19.7" rx="2.8" ry="2.1" fill="#98461b" transform="rotate(122 41.5 19.7)"/><ellipse cx="90.1" cy="6.9" rx="1.7" ry="1.1" fill="#a54f22" transform="rotate(74 90.1 6.9)"/><ellipse cx="64.6" cy="19.2" rx="2.0" ry="1.6" fill="#c56a2b" transform="rotate(11 64.6 19.2)"/><ellipse cx="164.2" cy="16.8" rx="2.8" ry="1.4" fill="#e39b52" transform="rotate(20 164.2 16.8)"/><ellipse cx="27.8" cy="20.3" rx="1.9" ry="1.6" fill="#c56a2b" transform="rotate(8 27.8 20.3)"/><ellipse cx="36.4" cy="29.6" rx="2.3" ry="1.7" fill="#d8853c" transform="rotate(71 36.4 29.6)"/><ellipse cx="75.8" cy="32.2" rx="2.6" ry="2.0" fill="#873815" transform="rotate(65 75.8 32.2)"/><ellipse cx="150.2" cy="11.5" rx="3.0" ry="1.5" fill="#c56a2b" transform="rotate(8 150.2 11.5)"/><ellipse cx="99.2" cy="29.6" rx="2.1" ry="2.1" fill="#873815" transform="rotate(16 99.2 29.6)"/><ellipse cx="153.6" cy="21.8" rx="2.9" ry="1.8" fill="#c56a2b" transform="rotate(81 153.6 21.8)"/><ellipse cx="100.5" cy="21.8" rx="2.9" ry="1.8" fill="#b05621" transform="rotate(114 100.5 21.8)"/><ellipse cx="151.2" cy="12.6" rx="1.7" ry="1.9" fill="#d8853c" transform="rotate(65 151.2 12.6)"/><ellipse cx="167.5" cy="2.0" rx="2.2" ry="1.0" fill="#873815" transform="rotate(66 167.5 2.0)"/><ellipse cx="140.0" cy="24.1" rx="2.4" ry="2.2" fill="#c56a2b" transform="rotate(37 140.0 24.1)"/><ellipse cx="56.5" cy="0.2" rx="1.6" ry="1.9" fill="#cc7633" transform="rotate(112 56.5 0.2)"/><ellipse cx="134.9" cy="3.6" rx="1.9" ry="1.3" fill="#c56a2b" transform="rotate(123 134.9 3.6)"/><ellipse cx="67.6" cy="15.0" rx="2.7" ry="2.1" fill="#da8c44" transform="rotate(119 67.6 15.0)"/><ellipse cx="127.7" cy="6.6" rx="1.4" ry="2.1" fill="#d8853c" transform="rotate(158 127.7 6.6)"/><ellipse cx="154.3" cy="30.2" rx="1.5" ry="1.5" fill="#c56a2b" transform="rotate(98 154.3 30.2)"/><ellipse cx="149.9" cy="21.4" rx="2.1" ry="1.4" fill="#da8c44" transform="rotate(122 149.9 21.4)"/><ellipse cx="20.6" cy="12.4" rx="1.9" ry="1.9" fill="#d8853c" transform="rotate(115 20.6 12.4)"/><ellipse cx="98.5" cy="4.9" rx="2.8" ry="1.3" fill="#b05621" transform="rotate(39 98.5 4.9)"/><ellipse cx="4.5" cy="19.4" rx="1.8" ry="2.0" fill="#d8853c" transform="rotate(27 4.5 19.4)"/><ellipse cx="56.6" cy="30.7" rx="1.5" ry="2.2" fill="#c56a2b" transform="rotate(171 56.6 30.7)"/><ellipse cx="164.7" cy="19.0" rx="2.7" ry="1.1" fill="#a54f22" transform="rotate(93 164.7 19.0)"/><ellipse cx="76.9" cy="8.9" rx="1.7" ry="1.3" fill="#b05621" transform="rotate(106 76.9 8.9)"/><ellipse cx="159.5" cy="2.0" rx="2.5" ry="1.4" fill="#873815" transform="rotate(4 159.5 2.0)"/><ellipse cx="78.7" cy="17.3" rx="2.2" ry="1.5" fill="#a54f22" transform="rotate(134 78.7 17.3)"/><ellipse cx="51.0" cy="12.2" rx="1.4" ry="1.5" fill="#d8853c" transform="rotate(46 51.0 12.2)"/><ellipse cx="24.6" cy="6.1" rx="2.6" ry="1.9" fill="#d8853c" transform="rotate(20 24.6 6.1)"/><ellipse cx="147.6" cy="30.2" rx="2.5" ry="1.9" fill="#d8853c" transform="rotate(35 147.6 30.2)"/><ellipse cx="109.0" cy="24.1" rx="2.7" ry="1.7" fill="#d8853c" transform="rotate(16 109.0 24.1)"/><ellipse cx="123.2" cy="17.7" rx="2.7" ry="2.1" fill="#98461b" transform="rotate(88 123.2 17.7)"/><ellipse cx="59.7" cy="28.6" rx="2.8" ry="1.6" fill="#c56a2b" transform="rotate(122 59.7 28.6)"/><ellipse cx="23.7" cy="22.6" rx="1.7" ry="1.7" fill="#ebb068" transform="rotate(9 23.7 22.6)"/><ellipse cx="29.1" cy="12.6" rx="2.3" ry="1.0" fill="#98461b" transform="rotate(114 29.1 12.6)"/><ellipse cx="172.4" cy="2.4" rx="1.9" ry="1.3" fill="#da8c44" transform="rotate(82 172.4 2.4)"/><ellipse cx="138.7" cy="29.5" rx="2.3" ry="2.1" fill="#b05621" transform="rotate(27 138.7 29.5)"/><ellipse cx="169.8" cy="16.8" rx="2.2" ry="1.6" fill="#98461b" transform="rotate(5 169.8 16.8)"/><ellipse cx="43.3" cy="3.0" rx="2.4" ry="1.2" fill="#b05621" transform="rotate(142 43.3 3.0)"/><ellipse cx="145.5" cy="1.0" rx="1.5" ry="1.8" fill="#d8853c" transform="rotate(4 145.5 1.0)"/><ellipse cx="149.0" cy="21.7" rx="2.1" ry="1.3" fill="#e39b52" transform="rotate(89 149.0 21.7)"/><ellipse cx="154.8" cy="24.4" rx="1.4" ry="1.1" fill="#98461b" transform="rotate(128 154.8 24.4)"/><ellipse cx="135.5" cy="3.7" rx="1.5" ry="2.1" fill="#98461b" transform="rotate(58 135.5 3.7)"/><ellipse cx="153.3" cy="5.0" rx="2.3" ry="1.9" fill="#d8853c" transform="rotate(4 153.3 5.0)"/><ellipse cx="166.9" cy="13.2" rx="2.0" ry="2.0" fill="#98461b" transform="rotate(101 166.9 13.2)"/><ellipse cx="172.7" cy="1.8" rx="1.9" ry="1.5" fill="#da8c44" transform="rotate(111 172.7 1.8)"/><ellipse cx="150.1" cy="19.2" rx="3.0" ry="1.4" fill="#b05621" transform="rotate(143 150.1 19.2)"/><ellipse cx="9.5" cy="17.6" rx="2.9" ry="2.1" fill="#d8853c" transform="rotate(108 9.5 17.6)"/><ellipse cx="118.0" cy="0.4" rx="1.5" ry="1.2" fill="#b05621" transform="rotate(51 118.0 0.4)"/><ellipse cx="89.8" cy="0.7" rx="1.5" ry="2.2" fill="#a54f22" transform="rotate(116 89.8 0.7)"/><ellipse cx="112.7" cy="27.5" rx="2.8" ry="2.1" fill="#c56a2b" transform="rotate(164 112.7 27.5)"/><ellipse cx="110.5" cy="31.2" rx="2.4" ry="1.8" fill="#a54f22" transform="rotate(9 110.5 31.2)"/><ellipse cx="110.6" cy="8.5" rx="2.2" ry="1.5" fill="#873815" transform="rotate(73 110.6 8.5)"/><ellipse cx="20.1" cy="11.8" rx="1.6" ry="1.1" fill="#873815" transform="rotate(131 20.1 11.8)"/><ellipse cx="160.5" cy="2.9" rx="2.3" ry="2.1" fill="#e39b52" transform="rotate(130 160.5 2.9)"/><ellipse cx="23.4" cy="10.0" rx="2.0" ry="1.3" fill="#d8853c" transform="rotate(22 23.4 10.0)"/><ellipse cx="131.8" cy="9.8" rx="2.1" ry="1.8" fill="#d8853c" transform="rotate(98 131.8 9.8)"/><ellipse cx="35.8" cy="24.2" rx="2.1" ry="1.7" fill="#cc7633" transform="rotate(120 35.8 24.2)"/><ellipse cx="145.7" cy="1.1" rx="1.9" ry="1.2" fill="#98461b" transform="rotate(149 145.7 1.1)"/><ellipse cx="70.6" cy="31.4" rx="1.6" ry="2.1" fill="#b05621" transform="rotate(83 70.6 31.4)"/><ellipse cx="87.5" cy="9.7" rx="3.0" ry="1.4" fill="#a54f22" transform="rotate(40 87.5 9.7)"/><ellipse cx="98.1" cy="20.6" rx="1.9" ry="1.8" fill="#98461b" transform="rotate(112 98.1 20.6)"/><ellipse cx="63.0" cy="25.9" rx="2.2" ry="2.2" fill="#cc7633" transform="rotate(39 63.0 25.9)"/><ellipse cx="74.2" cy="22.7" rx="1.5" ry="1.2" fill="#cc7633" transform="rotate(70 74.2 22.7)"/><ellipse cx="146.2" cy="17.6" rx="2.6" ry="1.9" fill="#a54f22" transform="rotate(121 146.2 17.6)"/><ellipse cx="47.8" cy="21.4" rx="2.4" ry="1.8" fill="#b05621" transform="rotate(26 47.8 21.4)"/><ellipse cx="0.8" cy="26.0" rx="2.3" ry="1.6" fill="#873815" transform="rotate(146 0.8 26.0)"/><ellipse cx="178.8" cy="26.0" rx="2.3" ry="1.6" fill="#873815" transform="rotate(146 178.8 26.0)"/><ellipse cx="26.6" cy="28.9" rx="1.8" ry="1.7" fill="#c56a2b" transform="rotate(115 26.6 28.9)"/><ellipse cx="123.3" cy="9.8" rx="1.9" ry="1.4" fill="#98461b" transform="rotate(152 123.3 9.8)"/><ellipse cx="68.4" cy="10.9" rx="2.6" ry="2.0" fill="#98461b" transform="rotate(113 68.4 10.9)"/><ellipse cx="53.4" cy="18.3" rx="2.7" ry="1.5" fill="#b05621" transform="rotate(59 53.4 18.3)"/><ellipse cx="15.7" cy="31.3" rx="1.9" ry="2.0" fill="#da8c44" transform="rotate(83 15.7 31.3)"/><ellipse cx="36.4" cy="14.5" rx="2.8" ry="1.0" fill="#c56a2b" transform="rotate(144 36.4 14.5)"/><ellipse cx="159.5" cy="10.2" rx="2.2" ry="1.4" fill="#cc7633" transform="rotate(111 159.5 10.2)"/><ellipse cx="92.1" cy="17.6" rx="2.5" ry="1.5" fill="#b05621" transform="rotate(152 92.1 17.6)"/><ellipse cx="120.4" cy="15.4" rx="1.3" ry="1.1" fill="#d8853c" transform="rotate(104 120.4 15.4)"/><ellipse cx="66.6" cy="13.6" rx="2.3" ry="1.7" fill="#da8c44" transform="rotate(107 66.6 13.6)"/><ellipse cx="86.6" cy="15.0" rx="2.4" ry="2.2" fill="#b05621" transform="rotate(135 86.6 15.0)"/><ellipse cx="132.9" cy="3.1" rx="1.9" ry="1.4" fill="#c56a2b" transform="rotate(79 132.9 3.1)"/><ellipse cx="91.2" cy="3.8" rx="2.8" ry="1.8" fill="#da8c44" transform="rotate(130 91.2 3.8)"/><ellipse cx="158.1" cy="14.3" rx="1.6" ry="1.3" fill="#98461b" transform="rotate(129 158.1 14.3)"/><ellipse cx="159.0" cy="14.0" rx="1.4" ry="1.7" fill="#c56a2b" transform="rotate(145 159.0 14.0)"/><ellipse cx="176.9" cy="21.6" rx="1.4" ry="1.5" fill="#a54f22" transform="rotate(78 176.9 21.6)"/><ellipse cx="-1.1" cy="21.6" rx="1.4" ry="1.5" fill="#a54f22" transform="rotate(78 -1.1 21.6)"/><ellipse cx="126.5" cy="18.8" rx="2.9" ry="1.5" fill="#c56a2b" transform="rotate(3 126.5 18.8)"/><ellipse cx="118.9" cy="6.7" rx="2.1" ry="1.7" fill="#d8853c" transform="rotate(165 118.9 6.7)"/><ellipse cx="159.4" cy="17.5" rx="1.5" ry="1.2" fill="#cc7633" transform="rotate(37 159.4 17.5)"/><ellipse cx="27.9" cy="25.8" rx="1.5" ry="1.1" fill="#d8853c" transform="rotate(133 27.9 25.8)"/><ellipse cx="87.3" cy="15.9" rx="2.0" ry="2.0" fill="#cc7633" transform="rotate(175 87.3 15.9)"/><ellipse cx="137.2" cy="11.0" rx="2.5" ry="1.4" fill="#d8853c" transform="rotate(68 137.2 11.0)"/><ellipse cx="111.9" cy="29.2" rx="2.9" ry="1.1" fill="#d8853c" transform="rotate(159 111.9 29.2)"/><ellipse cx="68.6" cy="1.9" rx="2.8" ry="1.7" fill="#873815" transform="rotate(112 68.6 1.9)"/><ellipse cx="9.7" cy="8.1" rx="1.7" ry="1.2" fill="#cc7633" transform="rotate(44 9.7 8.1)"/><ellipse cx="56.0" cy="30.6" rx="2.7" ry="1.4" fill="#cc7633" transform="rotate(126 56.0 30.6)"/><ellipse cx="174.4" cy="2.3" rx="2.5" ry="1.8" fill="#cc7633" transform="rotate(105 174.4 2.3)"/><ellipse cx="-3.6" cy="2.3" rx="2.5" ry="1.8" fill="#cc7633" transform="rotate(105 -3.6 2.3)"/><ellipse cx="55.0" cy="29.8" rx="2.1" ry="2.0" fill="#d8853c" transform="rotate(44 55.0 29.8)"/><ellipse cx="30.2" cy="12.9" rx="1.3" ry="2.1" fill="#b05621" transform="rotate(92 30.2 12.9)"/><ellipse cx="20.4" cy="18.1" rx="2.0" ry="1.5" fill="#c56a2b" transform="rotate(31 20.4 18.1)"/><ellipse cx="75.2" cy="31.0" rx="2.2" ry="1.5" fill="#e39b52" transform="rotate(88 75.2 31.0)"/><ellipse cx="42.2" cy="1.2" rx="2.4" ry="1.4" fill="#c56a2b" transform="rotate(180 42.2 1.2)"/><ellipse cx="23.1" cy="6.7" rx="2.2" ry="1.9" fill="#98461b" transform="rotate(119 23.1 6.7)"/><ellipse cx="148.9" cy="27.4" rx="1.6" ry="1.4" fill="#a54f22" transform="rotate(96 148.9 27.4)"/><ellipse cx="112.0" cy="19.7" rx="1.8" ry="1.6" fill="#d8853c" transform="rotate(115 112.0 19.7)"/><ellipse cx="120.2" cy="32.0" rx="3.0" ry="1.7" fill="#e39b52" transform="rotate(94 120.2 32.0)"/><ellipse cx="95.2" cy="13.7" rx="2.2" ry="1.2" fill="#a54f22" transform="rotate(173 95.2 13.7)"/><ellipse cx="91.3" cy="18.4" rx="1.8" ry="1.9" fill="#b05621" transform="rotate(168 91.3 18.4)"/><ellipse cx="127.8" cy="4.9" rx="1.3" ry="1.9" fill="#cc7633" transform="rotate(59 127.8 4.9)"/><ellipse cx="57.1" cy="22.5" rx="1.5" ry="1.7" fill="#b05621" transform="rotate(128 57.1 22.5)"/><ellipse cx="135.0" cy="6.6" rx="2.5" ry="1.1" fill="#b05621" transform="rotate(102 135.0 6.6)"/><ellipse cx="50.3" cy="13.7" rx="2.8" ry="1.9" fill="#da8c44" transform="rotate(33 50.3 13.7)"/><ellipse cx="166.7" cy="6.0" rx="1.9" ry="2.0" fill="#cc7633" transform="rotate(105 166.7 6.0)"/><ellipse cx="4.5" cy="23.9" rx="2.1" ry="2.2" fill="#b05621" transform="rotate(160 4.5 23.9)"/><ellipse cx="17.4" cy="9.9" rx="1.8" ry="1.7" fill="#d8853c" transform="rotate(173 17.4 9.9)"/><ellipse cx="7.2" cy="1.4" rx="1.6" ry="1.2" fill="#b05621" transform="rotate(97 7.2 1.4)"/><ellipse cx="131.4" cy="18.8" rx="2.4" ry="2.1" fill="#98461b" transform="rotate(58 131.4 18.8)"/><ellipse cx="101.5" cy="24.4" rx="1.7" ry="1.5" fill="#cc7633" transform="rotate(89 101.5 24.4)"/><ellipse cx="166.6" cy="3.8" rx="2.6" ry="1.8" fill="#873815" transform="rotate(149 166.6 3.8)"/><ellipse cx="108.1" cy="1.6" rx="1.7" ry="1.1" fill="#a54f22" transform="rotate(53 108.1 1.6)"/><ellipse cx="138.3" cy="11.8" rx="2.9" ry="1.5" fill="#a54f22" transform="rotate(157 138.3 11.8)"/><ellipse cx="147.5" cy="9.6" rx="1.5" ry="2.1" fill="#e39b52" transform="rotate(87 147.5 9.6)"/><ellipse cx="123.1" cy="25.1" rx="2.7" ry="1.8" fill="#e39b52" transform="rotate(13 123.1 25.1)"/><ellipse cx="120.4" cy="7.0" rx="2.4" ry="2.0" fill="#a54f22" transform="rotate(125 120.4 7.0)"/><ellipse cx="135.6" cy="1.5" rx="2.5" ry="2.0" fill="#d8853c" transform="rotate(139 135.6 1.5)"/><ellipse cx="29.1" cy="26.5" rx="1.7" ry="1.3" fill="#873815" transform="rotate(43 29.1 26.5)"/><ellipse cx="63.7" cy="14.0" rx="1.6" ry="1.4" fill="#c56a2b" transform="rotate(180 63.7 14.0)"/><ellipse cx="86.6" cy="16.4" rx="2.5" ry="1.0" fill="#cc7633" transform="rotate(34 86.6 16.4)"/><ellipse cx="166.6" cy="11.9" rx="1.8" ry="2.1" fill="#c56a2b" transform="rotate(144 166.6 11.9)"/><ellipse cx="42.9" cy="21.4" rx="1.5" ry="1.5" fill="#873815" transform="rotate(173 42.9 21.4)"/><ellipse cx="118.6" cy="20.4" rx="2.1" ry="1.9" fill="#da8c44" transform="rotate(29 118.6 20.4)"/><ellipse cx="122.8" cy="0.4" rx="2.1" ry="1.1" fill="#da8c44" transform="rotate(77 122.8 0.4)"/><ellipse cx="35.1" cy="23.9" rx="2.1" ry="1.1" fill="#b05621" transform="rotate(119 35.1 23.9)"/><ellipse cx="101.3" cy="9.8" rx="2.2" ry="1.1" fill="#e39b52" transform="rotate(124 101.3 9.8)"/><ellipse cx="14.9" cy="24.4" rx="3.0" ry="1.7" fill="#c56a2b" transform="rotate(125 14.9 24.4)"/><ellipse cx="170.3" cy="16.6" rx="2.6" ry="1.4" fill="#b05621" transform="rotate(23 170.3 16.6)"/><ellipse cx="114.7" cy="21.3" rx="2.9" ry="1.8" fill="#d8853c" transform="rotate(62 114.7 21.3)"/><ellipse cx="13.9" cy="25.4" rx="1.3" ry="1.5" fill="#c56a2b" transform="rotate(94 13.9 25.4)"/><ellipse cx="33.1" cy="21.7" rx="2.7" ry="2.1" fill="#d8853c" transform="rotate(79 33.1 21.7)"/><ellipse cx="132.1" cy="11.1" rx="1.6" ry="2.0" fill="#b05621" transform="rotate(94 132.1 11.1)"/><ellipse cx="24.3" cy="31.3" rx="2.7" ry="1.3" fill="#c56a2b" transform="rotate(27 24.3 31.3)"/><ellipse cx="100.9" cy="21.4" rx="2.7" ry="1.8" fill="#873815" transform="rotate(55 100.9 21.4)"/><ellipse cx="88.0" cy="17.0" rx="1.6" ry="1.4" fill="#cc7633" transform="rotate(20 88.0 17.0)"/><ellipse cx="25.3" cy="7.7" rx="1.5" ry="1.8" fill="#b05621" transform="rotate(10 25.3 7.7)"/><ellipse cx="151.4" cy="16.3" rx="1.7" ry="1.4" fill="#c56a2b" transform="rotate(156 151.4 16.3)"/><ellipse cx="152.2" cy="26.8" rx="2.0" ry="1.3" fill="#cc7633" transform="rotate(131 152.2 26.8)"/><ellipse cx="126.5" cy="30.3" rx="1.4" ry="1.0" fill="#873815" transform="rotate(45 126.5 30.3)"/><ellipse cx="160.9" cy="5.6" rx="1.8" ry="1.5" fill="#98461b" transform="rotate(89 160.9 5.6)"/><ellipse cx="101.0" cy="15.9" rx="2.2" ry="1.6" fill="#e39b52" transform="rotate(136 101.0 15.9)"/><ellipse cx="161.7" cy="29.4" rx="3.0" ry="2.2" fill="#cc7633" transform="rotate(15 161.7 29.4)"/><ellipse cx="128.7" cy="11.3" rx="2.4" ry="1.7" fill="#e39b52" transform="rotate(94 128.7 11.3)"/><ellipse cx="85.6" cy="22.0" rx="1.8" ry="1.4" fill="#da8c44" transform="rotate(7 85.6 22.0)"/><ellipse cx="151.0" cy="7.6" rx="2.6" ry="1.8" fill="#c56a2b" transform="rotate(148 151.0 7.6)"/><ellipse cx="66.2" cy="19.7" rx="2.0" ry="1.6" fill="#98461b" transform="rotate(101 66.2 19.7)"/><ellipse cx="46.5" cy="7.7" rx="2.9" ry="1.2" fill="#a54f22" transform="rotate(56 46.5 7.7)"/><ellipse cx="153.5" cy="8.6" rx="1.5" ry="1.6" fill="#d8853c" transform="rotate(125 153.5 8.6)"/><ellipse cx="40.4" cy="15.6" rx="2.2" ry="1.8" fill="#a54f22" transform="rotate(150 40.4 15.6)"/><ellipse cx="100.9" cy="29.0" rx="2.5" ry="2.0" fill="#c56a2b" transform="rotate(128 100.9 29.0)"/><ellipse cx="98.0" cy="24.3" rx="2.6" ry="1.1" fill="#ebb068" transform="rotate(131 98.0 24.3)"/><ellipse cx="18.2" cy="28.2" rx="2.0" ry="1.2" fill="#873815" transform="rotate(144 18.2 28.2)"/><ellipse cx="84.6" cy="3.2" rx="1.9" ry="1.7" fill="#b05621" transform="rotate(12 84.6 3.2)"/><ellipse cx="66.3" cy="0.5" rx="2.3" ry="1.3" fill="#b05621" transform="rotate(34 66.3 0.5)"/><ellipse cx="75.8" cy="30.2" rx="2.4" ry="2.0" fill="#98461b" transform="rotate(90 75.8 30.2)"/><ellipse cx="29.9" cy="25.3" rx="1.9" ry="1.9" fill="#cc7633" transform="rotate(65 29.9 25.3)"/><ellipse cx="21.8" cy="12.7" rx="2.6" ry="2.1" fill="#a54f22" transform="rotate(11 21.8 12.7)"/><ellipse cx="145.3" cy="12.0" rx="1.9" ry="1.4" fill="#cc7633" transform="rotate(8 145.3 12.0)"/><ellipse cx="164.7" cy="23.0" rx="1.7" ry="1.2" fill="#e39b52" transform="rotate(148 164.7 23.0)"/><ellipse cx="78.3" cy="26.9" rx="2.1" ry="1.1" fill="#d8853c" transform="rotate(38 78.3 26.9)"/><ellipse cx="98.7" cy="9.9" rx="2.5" ry="1.5" fill="#c56a2b" transform="rotate(64 98.7 9.9)"/><ellipse cx="95.8" cy="23.4" rx="2.7" ry="2.1" fill="#c56a2b" transform="rotate(87 95.8 23.4)"/><ellipse cx="177.0" cy="16.6" rx="2.1" ry="1.0" fill="#da8c44" transform="rotate(19 177.0 16.6)"/><ellipse cx="-1.0" cy="16.6" rx="2.1" ry="1.0" fill="#da8c44" transform="rotate(19 -1.0 16.6)"/><ellipse cx="32.4" cy="27.8" rx="2.5" ry="1.5" fill="#e39b52" transform="rotate(40 32.4 27.8)"/><ellipse cx="123.3" cy="15.3" rx="1.7" ry="2.1" fill="#98461b" transform="rotate(92 123.3 15.3)"/><ellipse cx="58.6" cy="7.4" rx="2.8" ry="1.7" fill="#c56a2b" transform="rotate(43 58.6 7.4)"/><ellipse cx="145.8" cy="24.7" rx="1.9" ry="1.6" fill="#873815" transform="rotate(80 145.8 24.7)"/><ellipse cx="1.1" cy="19.7" rx="1.9" ry="1.0" fill="#e39b52" transform="rotate(155 1.1 19.7)"/><ellipse cx="179.1" cy="19.7" rx="1.9" ry="1.0" fill="#e39b52" transform="rotate(155 179.1 19.7)"/><ellipse cx="8.1" cy="5.0" rx="2.4" ry="1.3" fill="#d8853c" transform="rotate(128 8.1 5.0)"/><ellipse cx="176.5" cy="12.1" rx="2.3" ry="1.7" fill="#c56a2b" transform="rotate(178 176.5 12.1)"/><ellipse cx="-1.5" cy="12.1" rx="2.3" ry="1.7" fill="#c56a2b" transform="rotate(178 -1.5 12.1)"/><ellipse cx="6.1" cy="19.1" rx="2.6" ry="2.0" fill="#a54f22" transform="rotate(162 6.1 19.1)"/><ellipse cx="101.8" cy="3.4" rx="2.6" ry="2.0" fill="#d8853c" transform="rotate(36 101.8 3.4)"/><ellipse cx="121.3" cy="10.3" rx="2.6" ry="1.9" fill="#98461b" transform="rotate(162 121.3 10.3)"/><ellipse cx="43.6" cy="29.7" rx="2.5" ry="1.4" fill="#cc7633" transform="rotate(171 43.6 29.7)"/><ellipse cx="57.5" cy="33.6" rx="2.1" ry="1.4" fill="#d8853c" transform="rotate(60 57.5 33.6)"/><ellipse cx="177.4" cy="5.1" rx="1.6" ry="2.1" fill="#cc7633" transform="rotate(103 177.4 5.1)"/><ellipse cx="-0.6" cy="5.1" rx="1.6" ry="2.1" fill="#cc7633" transform="rotate(103 -0.6 5.1)"/><ellipse cx="79.3" cy="19.3" rx="1.8" ry="1.2" fill="#c56a2b" transform="rotate(77 79.3 19.3)"/><ellipse cx="128.1" cy="8.6" rx="2.3" ry="1.8" fill="#873815" transform="rotate(18 128.1 8.6)"/><ellipse cx="164.0" cy="19.8" rx="1.4" ry="1.2" fill="#cc7633" transform="rotate(119 164.0 19.8)"/><ellipse cx="63.5" cy="26.3" rx="2.0" ry="2.0" fill="#c56a2b" transform="rotate(124 63.5 26.3)"/><ellipse cx="56.8" cy="6.0" rx="2.8" ry="1.7" fill="#a54f22" transform="rotate(160 56.8 6.0)"/><ellipse cx="47.7" cy="23.9" rx="1.7" ry="1.5" fill="#d8853c" transform="rotate(154 47.7 23.9)"/><ellipse cx="50.3" cy="17.1" rx="1.5" ry="1.3" fill="#c56a2b" transform="rotate(33 50.3 17.1)"/><ellipse cx="107.0" cy="2.7" rx="2.7" ry="2.1" fill="#b05621" transform="rotate(34 107.0 2.7)"/><ellipse cx="0.9" cy="9.2" rx="2.4" ry="1.0" fill="#b05621" transform="rotate(7 0.9 9.2)"/><ellipse cx="178.9" cy="9.2" rx="2.4" ry="1.0" fill="#b05621" transform="rotate(7 178.9 9.2)"/><ellipse cx="37.8" cy="11.1" rx="2.6" ry="1.8" fill="#b05621" transform="rotate(173 37.8 11.1)"/><ellipse cx="142.5" cy="5.9" rx="2.8" ry="2.0" fill="#c56a2b" transform="rotate(156 142.5 5.9)"/><ellipse cx="59.5" cy="16.8" rx="2.3" ry="1.3" fill="#e39b52" transform="rotate(3 59.5 16.8)"/><ellipse cx="4.6" cy="10.8" rx="2.4" ry="1.4" fill="#b05621" transform="rotate(84 4.6 10.8)"/><ellipse cx="27.9" cy="0.6" rx="1.7" ry="1.6" fill="#da8c44" transform="rotate(91 27.9 0.6)"/><ellipse cx="144.9" cy="14.4" rx="2.2" ry="1.7" fill="#98461b" transform="rotate(168 144.9 14.4)"/><ellipse cx="174.7" cy="19.5" rx="1.7" ry="1.7" fill="#a54f22" transform="rotate(122 174.7 19.5)"/><ellipse cx="-3.3" cy="19.5" rx="1.7" ry="1.7" fill="#a54f22" transform="rotate(122 -3.3 19.5)"/><ellipse cx="135.9" cy="26.4" rx="1.8" ry="1.9" fill="#873815" transform="rotate(116 135.9 26.4)"/><ellipse cx="99.6" cy="12.3" rx="2.2" ry="1.3" fill="#d8853c" transform="rotate(142 99.6 12.3)"/><ellipse cx="84.7" cy="22.3" rx="2.6" ry="1.4" fill="#ebb068" transform="rotate(58 84.7 22.3)"/><ellipse cx="71.4" cy="33.3" rx="2.9" ry="1.7" fill="#c56a2b" transform="rotate(139 71.4 33.3)"/><ellipse cx="89.3" cy="18.9" rx="1.6" ry="2.1" fill="#b05621" transform="rotate(38 89.3 18.9)"/><ellipse cx="160.7" cy="29.6" rx="2.8" ry="1.9" fill="#98461b" transform="rotate(89 160.7 29.6)"/><ellipse cx="138.5" cy="8.2" rx="3.0" ry="1.6" fill="#cc7633" transform="rotate(88 138.5 8.2)"/><ellipse cx="160.4" cy="13.2" rx="1.7" ry="1.9" fill="#c56a2b" transform="rotate(168 160.4 13.2)"/><ellipse cx="130.5" cy="2.2" rx="2.4" ry="1.5" fill="#da8c44" transform="rotate(15 130.5 2.2)"/><ellipse cx="40.6" cy="12.8" rx="2.8" ry="1.5" fill="#cc7633" transform="rotate(57 40.6 12.8)"/><ellipse cx="5.5" cy="0.7" rx="2.5" ry="1.3" fill="#b05621" transform="rotate(83 5.5 0.7)"/><ellipse cx="135.1" cy="21.9" rx="1.8" ry="2.2" fill="#d8853c" transform="rotate(145 135.1 21.9)"/><ellipse cx="140.8" cy="16.2" rx="2.9" ry="1.9" fill="#873815" transform="rotate(34 140.8 16.2)"/><ellipse cx="146.5" cy="9.6" rx="1.9" ry="1.6" fill="#da8c44" transform="rotate(41 146.5 9.6)"/><ellipse cx="56.9" cy="20.7" rx="2.9" ry="1.3" fill="#c56a2b" transform="rotate(53 56.9 20.7)"/><ellipse cx="151.5" cy="25.0" rx="1.4" ry="1.9" fill="#e39b52" transform="rotate(111 151.5 25.0)"/><ellipse cx="153.8" cy="33.8" rx="1.8" ry="1.0" fill="#c56a2b" transform="rotate(2 153.8 33.8)"/><ellipse cx="23.7" cy="10.3" rx="2.2" ry="1.4" fill="#a54f22" transform="rotate(118 23.7 10.3)"/><ellipse cx="121.5" cy="3.1" rx="1.9" ry="2.1" fill="#cc7633" transform="rotate(85 121.5 3.1)"/><ellipse cx="174.4" cy="1.1" rx="1.7" ry="2.0" fill="#cc7633" transform="rotate(9 174.4 1.1)"/><ellipse cx="-3.6" cy="1.1" rx="1.7" ry="2.0" fill="#cc7633" transform="rotate(9 -3.6 1.1)"/><ellipse cx="24.0" cy="20.2" rx="2.3" ry="1.8" fill="#a54f22" transform="rotate(12 24.0 20.2)"/><ellipse cx="176.4" cy="10.8" rx="2.8" ry="1.1" fill="#98461b" transform="rotate(34 176.4 10.8)"/><ellipse cx="-1.6" cy="10.8" rx="2.8" ry="1.1" fill="#98461b" transform="rotate(34 -1.6 10.8)"/><ellipse cx="93.5" cy="0.1" rx="1.7" ry="1.6" fill="#cc7633" transform="rotate(139 93.5 0.1)"/><ellipse cx="89.1" cy="3.8" rx="1.9" ry="1.6" fill="#873815" transform="rotate(89 89.1 3.8)"/><ellipse cx="172.7" cy="29.0" rx="3.0" ry="1.3" fill="#c56a2b" transform="rotate(180 172.7 29.0)"/><circle cx="31.5" cy="9.0" r="0.6" fill="#431508"/><circle cx="7.7" cy="17.3" r="0.8" fill="#431508"/><circle cx="99.1" cy="12.3" r="0.6" fill="#431508"/><circle cx="122.5" cy="22.2" r="0.9" fill="#431508"/><circle cx="97.7" cy="23.5" r="1.2" fill="#431508"/><circle cx="155.6" cy="24.4" r="0.8" fill="#431508"/><circle cx="56.7" cy="14.3" r="1.2" fill="#431508"/><circle cx="68.9" cy="13.1" r="0.8" fill="#431508"/><circle cx="25.5" cy="33.9" r="0.6" fill="#431508"/><circle cx="108.2" cy="31.5" r="0.8" fill="#431508"/><circle cx="108.7" cy="12.8" r="0.7" fill="#431508"/><circle cx="35.3" cy="3.9" r="1.1" fill="#431508"/><circle cx="139.5" cy="30.9" r="0.6" fill="#431508"/><circle cx="123.6" cy="11.0" r="1.0" fill="#431508"/><circle cx="97.7" cy="10.7" r="1.2" fill="#431508"/><circle cx="0.2" cy="25.4" r="1.1" fill="#431508"/><circle cx="90.8" cy="20.1" r="1.2" fill="#431508"/><circle cx="41.7" cy="21.4" r="1.0" fill="#431508"/><circle cx="67.4" cy="24.2" r="0.8" fill="#431508"/><circle cx="93.7" cy="20.8" r="1.0" fill="#431508"/><circle cx="57.3" cy="21.4" r="0.9" fill="#431508"/><circle cx="39.7" cy="20.8" r="0.8" fill="#431508"/><circle cx="161.8" cy="16.1" r="1.0" fill="#431508"/><circle cx="92.9" cy="16.2" r="0.7" fill="#431508"/><circle cx="25.3" cy="31.5" r="0.9" fill="#431508"/><circle cx="93.3" cy="17.9" r="1.1" fill="#431508"/><circle cx="42.5" cy="5.9" r="1.1" fill="#431508"/><circle cx="81.9" cy="21.8" r="1.1" fill="#431508"/><circle cx="159.1" cy="29.5" r="0.6" fill="#431508"/><circle cx="67.9" cy="28.3" r="1.1" fill="#431508"/><circle cx="21.9" cy="5.2" r="0.8" fill="#431508"/><circle cx="18.3" cy="12.1" r="1.1" fill="#431508"/><circle cx="92.8" cy="15.4" r="0.7" fill="#431508"/><circle cx="70.4" cy="33.9" r="1.0" fill="#431508"/><circle cx="80.0" cy="16.3" r="1.1" fill="#431508"/><circle cx="135.1" cy="5.1" r="1.0" fill="#431508"/><circle cx="65.3" cy="17.7" r="0.7" fill="#431508"/><circle cx="66.0" cy="11.6" r="0.8" fill="#431508"/><circle cx="3.2" cy="6.8" r="0.9" fill="#431508"/><circle cx="10.3" cy="6.1" r="1.0" fill="#431508"/><circle cx="48.9" cy="11.0" r="0.7" fill="#431508"/><circle cx="148.5" cy="3.1" r="1.0" fill="#431508"/><circle cx="152.9" cy="6.9" r="0.9" fill="#431508"/><circle cx="141.0" cy="21.0" r="0.8" fill="#431508"/><circle cx="7.8" cy="15.0" r="0.8" fill="#431508"/><circle cx="126.8" cy="10.0" r="0.8" fill="#431508"/><circle cx="115.4" cy="27.6" r="0.8" fill="#431508"/><circle cx="68.6" cy="19.7" r="1.2" fill="#431508"/><circle cx="34.1" cy="33.0" r="1.0" fill="#431508"/><circle cx="66.3" cy="22.6" r="0.8" fill="#431508"/><circle cx="12.6" cy="25.7" r="0.8" fill="#431508"/><circle cx="93.6" cy="16.9" r="1.1" fill="#431508"/><circle cx="134.8" cy="0.9" r="1.0" fill="#431508"/><circle cx="82.3" cy="15.7" r="1.1" fill="#431508"/><circle cx="73.9" cy="16.1" r="1.1" fill="#431508"/><circle cx="78.3" cy="16.7" r="0.9" fill="#431508"/><circle cx="146.8" cy="22.8" r="1.0" fill="#431508"/><circle cx="71.5" cy="1.4" r="1.0" fill="#431508"/><circle cx="98.6" cy="26.2" r="1.1" fill="#431508"/><circle cx="21.0" cy="7.5" r="0.6" fill="#431508"/><circle cx="145.5" cy="3.5" r="0.7" fill="#431508"/><circle cx="134.1" cy="19.2" r="0.6" fill="#431508"/><circle cx="121.2" cy="24.2" r="0.9" fill="#431508"/><circle cx="9.8" cy="23.5" r="0.9" fill="#431508"/><circle cx="103.9" cy="33.9" r="1.1" fill="#431508"/><circle cx="155.2" cy="4.9" r="0.8" fill="#431508"/><circle cx="92.2" cy="0.2" r="1.2" fill="#431508"/><circle cx="48.9" cy="8.9" r="0.8" fill="#431508"/><circle cx="45.4" cy="29.2" r="0.9" fill="#431508"/><circle cx="91.0" cy="14.3" r="0.6" fill="#431508"/><circle cx="54.2" cy="29.5" r="1.1" fill="#431508"/><circle cx="152.5" cy="8.7" r="0.7" fill="#431508"/><circle cx="9.3" cy="18.3" r="0.8" fill="#431508"/><circle cx="82.6" cy="16.6" r="1.0" fill="#431508"/><circle cx="65.1" cy="27.2" r="0.7" fill="#431508"/><circle cx="163.6" cy="18.9" r="0.6" fill="#431508"/><circle cx="55.9" cy="18.1" r="0.8" fill="#431508"/><circle cx="100.6" cy="11.0" r="0.8" fill="#431508"/><circle cx="141.7" cy="9.9" r="1.0" fill="#431508"/><circle cx="142.8" cy="20.1" r="0.9" fill="#431508"/><circle cx="166.4" cy="15.1" r="1.1" fill="#431508"/><circle cx="10.3" cy="14.7" r="1.0" fill="#431508"/><circle cx="8.7" cy="29.3" r="0.6" fill="#431508"/><circle cx="106.1" cy="6.1" r="1.2" fill="#431508"/><circle cx="99.9" cy="27.2" r="0.9" fill="#431508"/><circle cx="119.9" cy="22.9" r="0.8" fill="#431508"/><circle cx="37.6" cy="28.5" r="0.7" fill="#431508"/><circle cx="163.4" cy="7.0" r="0.7" fill="#431508"/><circle cx="17.0" cy="26.7" r="1.2" fill="#431508"/><circle cx="73.8" cy="22.4" r="0.8" fill="#431508"/><circle cx="161.2" cy="23.3" r="0.7" fill="#431508"/><circle cx="10.1" cy="23.7" r="0.6" fill="#431508"/><circle cx="148.8" cy="10.0" r="0.7" fill="#431508"/><circle cx="103.6" cy="10.8" r="0.9" fill="#431508"/><circle cx="27.4" cy="31.0" r="0.8" fill="#431508"/><circle cx="149.8" cy="5.2" r="1.1" fill="#431508"/><circle cx="174.5" cy="13.3" r="0.6" fill="#431508"/><circle cx="67.6" cy="21.8" r="0.7" fill="#431508"/><circle cx="97.1" cy="3.2" r="0.9" fill="#431508"/><circle cx="129.6" cy="14.6" r="1.0" fill="#431508"/><circle cx="20.4" cy="28.2" r="0.7" fill="#431508"/><circle cx="164.4" cy="33.9" r="1.2" fill="#431508"/><circle cx="93.7" cy="9.9" r="0.8" fill="#431508"/><circle cx="133.6" cy="16.9" r="1.2" fill="#431508"/><circle cx="16.6" cy="16.5" r="1.1" fill="#431508"/><circle cx="106.4" cy="18.4" r="0.7" fill="#431508"/><circle cx="24.9" cy="9.2" r="1.1" fill="#431508"/><circle cx="150.5" cy="7.7" r="1.2" fill="#431508"/><circle cx="5.8" cy="20.4" r="1.2" fill="#431508"/><circle cx="61.3" cy="32.1" r="1.0" fill="#431508"/></pattern>
<g id="cl"><g fill="none" stroke="#111"><ellipse cx="2.9" cy="2.2" rx="2.5" ry="1.25" stroke-width="1.15" transform="rotate(-14 2.9 2.2)"/><ellipse cx="9.3" cy="2.7" rx="2.5" ry="1.3" stroke-width="1.15" transform="rotate(16 9.3 2.7)"/></g><circle cx="6.2" cy="6.6" r="3.95" fill="#fff" stroke="#111" stroke-width="1.25"/></g>
<g id="clb"><rect width="12.1" height="11.3" fill="#fff"/><use href="#cl"/></g>
<linearGradient id="blk" x1="0" y1="0" x2="0" y2="1"><stop offset="0" stop-color="#242426"/><stop offset=".35" stop-color="#434448"/><stop offset="1" stop-color="#121214"/></linearGradient>
<linearGradient id="blk2" x1="0" y1="0" x2="0" y2="1"><stop offset="0" stop-color="#3a3b3e"/><stop offset=".28" stop-color="#6a6b6f"/><stop offset=".6" stop-color="#444549"/><stop offset="1" stop-color="#222224"/></linearGradient>
<linearGradient id="blkh" x1="0" y1="0" x2="1" y2="0"><stop offset="0" stop-color="#1c1c1e"/><stop offset=".4" stop-color="#47484c"/><stop offset="1" stop-color="#121214"/></linearGradient>
<linearGradient id="sil" x1="0" y1="0" x2="1" y2="0"><stop offset="0" stop-color="#8d9094"/><stop offset=".45" stop-color="#f4f5f6"/><stop offset="1" stop-color="#7b7e82"/></linearGradient>
<linearGradient id="blu" x1="0" y1="0" x2="1" y2="0"><stop offset="0" stop-color="#0c6fc4"/><stop offset=".45" stop-color="#39a5f2"/><stop offset="1" stop-color="#0a5ca8"/></linearGradient>
<linearGradient id="gry" x1="0" y1="0" x2="1" y2="0"><stop offset="0" stop-color="#58707b"/><stop offset=".45" stop-color="#9ab4c0"/><stop offset="1" stop-color="#4a616b"/></linearGradient>
<linearGradient id="bg" x1="0" y1="0" x2="0" y2="1"><stop offset="0" stop-color="#8aa83a"/><stop offset=".22" stop-color="#5a8327"/><stop offset=".6" stop-color="#497220"/><stop offset="1" stop-color="#3c621b"/></linearGradient></defs>
<ellipse cx="377.3" cy="162.8" rx="30.6" ry="14.4" fill="#d9ecf8"/>
<ellipse cx="757.4" cy="123.9" rx="30.8" ry="14" fill="#d9ecf8"/>
<path d="M454 169.8 L487.5 186.6 Q454 201 418.3 186.6 Z" fill="#c6e1f3"/>
<rect x="20" y="216" width="709.5" height="31" fill="url(#soil)"/>
<path d="M20 220 L20.0 214.9 L27.0 215.9 L33.5 216.6 L39.6 216.7 L46.3 215.0 L54.7 215.0 L63.0 216.7 L71.6 215.9 L76.8 216.0 L82.4 216.4 L88.2 216.2 L95.3 215.7 L104.3 215.2 L110.3 217.1 L117.3 216.8 L127.5 216.0 L133.4 215.0 L143.7 215.1 L151.7 216.1 L157.4 215.9 L163.3 216.1 L171.4 215.7 L177.6 215.8 L183.8 215.1 L190.2 216.9 L198.2 216.9 L203.3 217.1 L211.3 216.7 L219.7 216.5 L226.1 216.6 L232.0 215.4 L237.2 215.7 L245.3 215.5 L255.6 215.0 L264.1 215.4 L272.7 216.7 L281.9 214.9 L288.4 216.2 L299.3 214.9 L308.0 216.5 L317.9 215.6 L327.8 215.9 L338.3 214.8 L348.9 215.8 L356.4 215.0 L362.8 216.6 L371.9 215.2 L379.0 215.1 L385.2 215.3 L392.2 217.1 L403.1 216.7 L411.0 216.0 L420.7 217.0 L430.2 216.3 L436.4 216.3 L446.5 216.7 L452.0 216.5 L459.1 215.2 L469.9 216.4 L479.4 215.1 L489.4 217.0 L499.8 216.6 L509.8 216.7 L518.3 215.8 L528.3 216.7 L538.5 215.5 L549.3 216.1 L559.9 215.1 L570.7 216.7 L577.3 216.8 L583.7 215.3 L591.4 215.4 L599.4 217.0 L608.5 216.5 L615.8 216.7 L625.6 216.4 L636.2 216.8 L643.7 215.0 L652.6 216.8 L659.6 216.2 L669.6 216.7 L674.7 216.0 L679.8 215.1 L689.6 215.8 L698.3 215.9 L705.3 215.3 L712.4 216.8 L721.1 215.5 L726.6 215.5 L729.5 216.0 L729.5 220 L729.5 219.1 L726.6 219.0 L721.1 219.3 L712.4 219.3 L705.3 218.9 L698.3 218.2 L689.6 219.7 L679.8 217.6 L674.7 218.7 L669.6 220.8 L659.6 219.2 L652.6 219.5 L643.7 219.0 L636.2 220.2 L625.6 220.4 L615.8 219.7 L608.5 219.7 L599.4 221.1 L591.4 218.6 L583.7 219.5 L577.3 219.4 L570.7 220.6 L559.9 217.6 L549.3 219.3 L538.5 217.7 L528.3 219.2 L518.3 219.9 L509.8 219.8 L499.8 220.4 L489.4 219.8 L479.4 218.0 L469.9 218.8 L459.1 218.5 L452.0 220.4 L446.5 219.9 L436.4 219.3 L430.2 220.4 L420.7 221.0 L411.0 219.5 L403.1 219.1 L392.2 220.6 L385.2 218.4 L379.0 219.3 L371.9 218.1 L362.8 220.1 L356.4 218.5 L348.9 218.7 L338.3 218.1 L327.8 219.5 L317.9 219.6 L308.0 219.7 L299.3 217.8 L288.4 220.4 L281.9 217.3 L272.7 220.6 L264.1 218.9 L255.6 218.3 L245.3 218.6 L237.2 219.4 L232.0 219.4 L226.1 220.3 L219.7 220.2 L211.3 219.0 L203.3 219.9 L198.2 219.4 L190.2 221.0 L183.8 219.1 L177.6 218.3 L171.4 219.1 L163.3 219.4 L157.4 218.2 L151.7 219.1 L143.7 218.8 L133.4 218.5 L127.5 218.7 L117.3 220.5 L110.3 219.8 L104.3 218.5 L95.3 218.7 L88.2 220.3 L82.4 219.8 L76.8 219.8 L71.6 219.5 L63.0 219.7 L54.7 219.2 L46.3 218.6 L39.6 220.3 L33.5 219.3 L27.0 218.4 L20.0 218.3 Z" fill="#5b2b12"/>
<path d="M20 213 L729.5 213 L729.5 216.0 L726.6 215.5 L721.1 215.5 L712.4 216.8 L705.3 215.3 L698.3 215.9 L689.6 215.8 L679.8 215.1 L674.7 216.0 L669.6 216.7 L659.6 216.2 L652.6 216.8 L643.7 215.0 L636.2 216.8 L625.6 216.4 L615.8 216.7 L608.5 216.5 L599.4 217.0 L591.4 215.4 L583.7 215.3 L577.3 216.8 L570.7 216.7 L559.9 215.1 L549.3 216.1 L538.5 215.5 L528.3 216.7 L518.3 215.8 L509.8 216.7 L499.8 216.6 L489.4 217.0 L479.4 215.1 L469.9 216.4 L459.1 215.2 L452.0 216.5 L446.5 216.7 L436.4 216.3 L430.2 216.3 L420.7 217.0 L411.0 216.0 L403.1 216.7 L392.2 217.1 L385.2 215.3 L379.0 215.1 L371.9 215.2 L362.8 216.6 L356.4 215.0 L348.9 215.8 L338.3 214.8 L327.8 215.9 L317.9 215.6 L308.0 216.5 L299.3 214.9 L288.4 216.2 L281.9 214.9 L272.7 216.7 L264.1 215.4 L255.6 215.0 L245.3 215.5 L237.2 215.7 L232.0 215.4 L226.1 216.6 L219.7 216.5 L211.3 216.7 L203.3 217.1 L198.2 216.9 L190.2 216.9 L183.8 215.1 L177.6 215.8 L171.4 215.7 L163.3 216.1 L157.4 215.9 L151.7 216.1 L143.7 215.1 L133.4 215.0 L127.5 216.0 L117.3 216.8 L110.3 217.1 L104.3 215.2 L95.3 215.7 L88.2 216.2 L82.4 216.4 L76.8 216.0 L71.6 215.9 L63.0 216.7 L54.7 215.0 L46.3 215.0 L39.6 216.7 L33.5 216.6 L27.0 215.9 L20.0 214.9 Z" fill="#fff"/>
<rect x="5.5" y="246.6" width="725.5" height="8" fill="#8c765c"/>
<rect x="5.5" y="246.6" width="725.5" height="1.2" fill="#7d6447"/>
<path d="M23 217L23.0 210.1L25.4 208.7L26.9 209.2L29.4 208.2L31.7 208.2L33.4 207.9L35.2 208.8L37.8 210.5L39.4 208.6L41.0 209.0L41 217Z" fill="#456d1f"/>
<path d="M56 217L56.0 204.3L57.8 205.0L59.3 204.5L61.2 204.8L63.7 204.5L65.4 206.3L67.3 206.1L69.5 206.0L71.3 204.1L73.6 205.1L75.7 205.6L78.0 204.5L79.8 206.4L81.8 204.5L84.0 204.5L86.3 203.8L88.7 205.3L90.5 206.4L92.2 204.4L93.7 205.3L96.0 205.7L97.9 206.0L99.5 204.6L101.6 206.5L103.8 205.7L106.1 204.8L108.7 205.9L110.5 204.8L112.8 204.7L114.5 206.2L116.5 205.2L118.7 206.3L120.3 204.7L121.7 204.9L123.7 206.2L125.9 205.4L127.8 205.4L129.5 206.1L131.9 206.1L133.5 205.6L135.8 205.2L138.3 206.3L140.6 206.1L142.7 206.2L144.3 205.7L146.5 205.5L148.3 203.9L150.4 206.1L152.1 204.3L153.8 204.0L156.0 206.5L158.4 204.7L160.6 203.9L163.0 204.6L164.4 205.5L166.0 204.5L167.4 205.0L169.5 206.0L171.0 206.1L172.5 204.4L174.6 204.7L176.4 205.3L178.1 206.0L179.8 206.1L182.1 205.3L183.6 206.0L185.0 205.2L186.9 203.9L189.1 205.8L191.2 204.9L193.2 205.4L194.8 206.2L197.4 206.0L200.0 204.7L202.6 203.9L204.6 204.1L206.5 205.7L208.7 205.0L210.6 204.3L212.4 204.5L214.1 205.8L216.1 205.0L217.7 205.7L219.4 204.5L221.0 205.0L221 217Z" fill="#456d1f"/>
<path d="M235 217L235.0 209.2L237.6 209.4L240.1 209.9L242.4 209.3L243.8 207.8L245.3 209.7L247.5 209.0L249.2 208.2L250.8 209.0L253.4 208.1L254.9 207.7L256.7 209.8L259.1 208.5L260.6 207.5L262.2 209.5L264.2 210.1L266.6 209.5L268.6 209.6L270.2 207.5L272.2 208.7L273.9 207.9L275.3 209.8L277.0 208.5L277 217Z" fill="#456d1f"/>
<path d="M291 217L291.0 206.4L293.6 205.0L295.9 204.8L298.2 206.1L299.8 203.7L301.4 205.4L303.3 203.7L305.7 206.0L307.7 203.8L310.1 205.2L311.6 204.6L313.8 206.3L315.7 205.6L317.4 204.4L319.9 204.8L321.4 205.4L322.9 204.3L324.9 205.4L327.1 205.8L329.0 203.9L331.3 203.9L333.2 204.9L335.4 205.8L337.1 205.6L339.3 205.1L340.9 206.3L343.0 203.9L344.7 206.6L346.4 204.8L348.7 206.1L350.9 205.9L352.3 204.0L354.9 206.0L356.4 203.8L358.1 206.4L359.7 205.6L362.2 205.6L364.7 204.5L366.3 203.8L368.6 204.0L371.2 205.8L372.8 206.0L374.4 205.2L375.9 206.0L378.4 206.4L379.8 206.2L381.9 206.1L383.9 205.5L386.0 206.0L387.5 203.9L389.5 204.5L391.4 203.7L393.7 203.8L396.1 206.1L398.1 204.1L400.2 204.3L402.2 204.0L404.7 205.3L406.6 204.0L408.8 206.2L411.2 204.0L413.1 204.6L415.4 204.1L417.5 206.5L419.9 203.7L421.3 204.0L423.6 205.4L425.6 205.0L427.5 205.5L429.7 206.4L431.9 206.0L434.4 206.1L436.7 203.8L438.9 206.2L440.8 206.2L442.4 206.4L443.0 205.0L443 217Z" fill="#456d1f"/>
<path d="M472 217L472.0 209.2L473.7 208.1L475.5 208.1L477.0 208.5L479.6 209.1L482.1 209.4L484.5 210.1L486.8 208.0L488.5 208.4L490.0 207.9L492.4 209.9L494.2 209.4L496.6 209.8L498.9 208.7L500.4 209.6L502.2 209.0L504.0 208.8L506.6 207.7L508.6 209.1L510.7 209.9L512.6 209.8L514.0 208.5L514 217Z" fill="#456d1f"/>
<path d="M544 217L544.0 206.5L545.5 204.3L547.3 206.3L548.7 204.5L550.9 206.6L552.5 205.0L554.8 205.7L557.1 205.9L558.8 204.4L560.2 205.7L561.8 204.5L564.4 205.6L566.5 205.6L568.6 205.7L570.4 203.9L571.9 203.7L573.7 204.1L575.2 205.1L577.8 205.7L579.5 205.9L581.1 204.0L582.9 204.9L585.1 205.0L587.4 204.0L589.9 204.7L592.3 203.8L594.7 204.4L597.1 206.0L599.4 204.5L600.8 204.3L603.3 204.2L605.4 205.4L607.6 204.2L609.2 204.0L611.8 204.8L614.0 205.4L615.6 203.9L617.1 206.2L618.6 206.5L620.4 205.8L622.0 206.0L623.7 204.8L625.7 204.0L627.4 206.0L629.2 204.8L631.5 204.3L633.1 204.3L635.0 204.8L637.2 205.1L639.6 203.8L641.8 206.1L643.5 203.8L645.4 204.0L647.4 205.8L648.9 204.0L650.9 204.2L652.5 205.0L654.1 203.9L655.9 205.1L658.4 205.3L659.9 204.3L662.2 205.3L664.7 206.5L667.1 204.0L669.6 205.2L671.3 204.2L673.7 204.3L675.2 204.5L677.7 205.0L680.0 203.9L682.0 204.6L683.6 205.6L685.4 204.0L688.0 205.1L689.6 203.7L691.8 205.2L693.3 205.1L695.0 205.0L695 217Z" fill="#456d1f"/>
<path d="M708 217L708.0 208.8L709.7 208.6L711.8 209.1L713.4 209.5L715.9 209.3L718.3 208.3L720.8 207.7L722.5 208.9L725.0 207.4L726.0 208.5L726 217Z" fill="#456d1f"/>
<path d="M34.5 217L34.5 217.0L35.3 210.8L36.6 207.1L37.4 208.3L38.1 205.7L39.3 208.3L40.5 207.5L41.5 211.5L42.6 217.0L42.5 217Z" fill="url(#bg)"/><path d="M37.0 214.5Q37.0 212.2 36.6 209.8" stroke="#688f30" stroke-width="0.8" fill="none" opacity=".6"/><path d="M41.1 214.7Q41.1 213.4 41.6 212.0" stroke="#3e6c19" stroke-width="0.8" fill="none" opacity=".6"/><path d="M39.4 216.9Q39.4 214.0 39.6 211.0" stroke="#3e6c19" stroke-width="0.8" fill="none" opacity=".6"/>
<path d="M51.9 217L51.6 217.0L53.7 210.2L55.4 205.8L56.9 205.7L58.6 203.2L60.8 204.5L61.9 202.6L64.1 205.6L65.6 206.2L67.6 209.6L68.9 217.0L69.1 217Z" fill="url(#bg)"/><path d="M61.3 216.3Q61.3 213.0 61.5 209.7" stroke="#86a644" stroke-width="0.8" fill="none" opacity=".6"/><path d="M65.7 215.8Q65.7 213.8 66.8 211.8" stroke="#345f15" stroke-width="1.3" fill="none" opacity=".6"/><path d="M65.2 216.8Q65.2 213.1 66.3 209.5" stroke="#3e6c19" stroke-width="1.2" fill="none" opacity=".6"/><path d="M59.6 215.4Q59.6 210.1 59.4 204.7" stroke="#86a644" stroke-width="1.1" fill="none" opacity=".6"/><path d="M60.6 216.7Q60.6 213.0 60.7 209.4" stroke="#86a644" stroke-width="1.0" fill="none" opacity=".6"/><path d="M62.6 215.9Q62.6 211.7 63.1 207.5" stroke="#325a18" stroke-width="0.7" fill="none" opacity=".6"/><path d="M55.6 214.3Q55.6 211.2 54.4 208.1" stroke="#3e6c19" stroke-width="1.2" fill="none" opacity=".6"/>
<path d="M232.8 217L232.9 217.0L234.8 210.9L236.4 207.3L237.4 207.0L239.2 203.8L241.4 204.6L242.6 202.6L244.7 204.0L246.0 201.5L248.0 203.6L249.0 201.8L251.0 205.1L252.3 204.2L254.1 207.0L255.8 206.6L257.4 211.0L259.3 217.0L259.2 217Z" fill="url(#bg)"/><path d="M252.8 216.7Q252.8 213.1 254.3 209.5" stroke="#688f30" stroke-width="1.0" fill="none" opacity=".6"/><path d="M248.6 215.6Q248.6 211.2 249.2 206.8" stroke="#75993a" stroke-width="1.0" fill="none" opacity=".6"/><path d="M243.4 214.9Q243.4 210.5 242.8 206.2" stroke="#3e6c19" stroke-width="1.2" fill="none" opacity=".6"/><path d="M249.5 215.0Q249.5 209.7 250.2 204.4" stroke="#688f30" stroke-width="0.9" fill="none" opacity=".6"/><path d="M254.3 214.7Q254.3 211.2 256.2 207.7" stroke="#86a644" stroke-width="0.7" fill="none" opacity=".6"/><path d="M241.5 215.2Q241.5 210.2 240.5 205.2" stroke="#75993a" stroke-width="1.1" fill="none" opacity=".6"/><path d="M242.4 216.2Q242.4 210.9 241.6 205.5" stroke="#325a18" stroke-width="0.9" fill="none" opacity=".6"/><path d="M249.0 214.7Q249.0 211.6 249.6 208.4" stroke="#345f15" stroke-width="1.0" fill="none" opacity=".6"/><path d="M244.4 215.3Q244.4 212.1 244.1 208.9" stroke="#345f15" stroke-width="1.2" fill="none" opacity=".6"/><path d="M238.6 216.3Q238.6 213.7 236.9 211.1" stroke="#3e6c19" stroke-width="0.8" fill="none" opacity=".6"/><path d="M249.8 214.0Q249.8 211.1 250.6 208.1" stroke="#345f15" stroke-width="0.7" fill="none" opacity=".6"/>
<path d="M256.3 217L256.0 217.0L257.5 210.5L259.3 206.6L261.4 206.5L263.0 203.7L264.1 204.1L265.5 202.8L267.2 204.0L269.0 201.7L270.4 204.3L272.7 203.3L274.1 206.5L275.5 205.9L276.7 210.4L278.4 217.0L278.7 217Z" fill="url(#bg)"/><path d="M267.1 216.8Q267.1 213.2 267.0 209.6" stroke="#86a644" stroke-width="0.9" fill="none" opacity=".6"/><path d="M267.0 214.6Q267.0 209.5 266.9 204.4" stroke="#86a644" stroke-width="0.9" fill="none" opacity=".6"/><path d="M266.5 217.0Q266.5 210.9 266.3 204.9" stroke="#3e6c19" stroke-width="0.7" fill="none" opacity=".6"/><path d="M269.5 216.3Q269.5 212.4 270.0 208.6" stroke="#688f30" stroke-width="1.0" fill="none" opacity=".6"/><path d="M264.9 216.8Q264.9 213.1 264.4 209.5" stroke="#345f15" stroke-width="0.8" fill="none" opacity=".6"/><path d="M264.3 215.1Q264.3 210.1 263.6 205.2" stroke="#325a18" stroke-width="0.7" fill="none" opacity=".6"/><path d="M262.7 214.0Q262.7 208.8 261.6 203.6" stroke="#75993a" stroke-width="0.7" fill="none" opacity=".6"/><path d="M260.8 215.6Q260.8 212.8 259.3 210.1" stroke="#86a644" stroke-width="1.1" fill="none" opacity=".6"/><path d="M274.5 214.6Q274.5 212.1 276.1 209.6" stroke="#75993a" stroke-width="1.0" fill="none" opacity=".6"/><path d="M264.5 214.7Q264.5 210.8 263.9 206.9" stroke="#75993a" stroke-width="0.6" fill="none" opacity=".6"/>
<path d="M470.0 217L469.7 217.0L471.9 211.1L473.1 206.7L475.0 206.2L476.5 203.7L478.3 204.7L479.7 201.9L481.6 203.3L483.1 202.1L484.8 204.1L486.7 203.2L488.6 205.5L490.0 205.1L492.0 208.6L493.1 209.0L495.1 217.0L495.0 217Z" fill="url(#bg)"/><path d="M478.7 216.9Q478.7 211.2 477.9 205.4" stroke="#325a18" stroke-width="0.7" fill="none" opacity=".6"/><path d="M481.9 215.1Q481.9 211.1 481.8 207.0" stroke="#345f15" stroke-width="1.2" fill="none" opacity=".6"/><path d="M485.2 216.0Q485.2 211.4 485.9 206.8" stroke="#3e6c19" stroke-width="0.9" fill="none" opacity=".6"/><path d="M475.6 214.1Q475.6 211.8 474.0 209.4" stroke="#75993a" stroke-width="1.2" fill="none" opacity=".6"/><path d="M485.4 215.4Q485.4 210.3 486.1 205.2" stroke="#75993a" stroke-width="0.7" fill="none" opacity=".6"/><path d="M483.0 214.5Q483.0 210.8 483.2 207.1" stroke="#3e6c19" stroke-width="0.9" fill="none" opacity=".6"/><path d="M487.7 214.9Q487.7 211.3 488.9 207.6" stroke="#3e6c19" stroke-width="0.9" fill="none" opacity=".6"/><path d="M483.4 216.7Q483.4 210.6 483.6 204.5" stroke="#86a644" stroke-width="1.2" fill="none" opacity=".6"/><path d="M482.0 214.1Q482.0 209.1 481.9 204.0" stroke="#75993a" stroke-width="1.1" fill="none" opacity=".6"/><path d="M480.7 216.4Q480.7 210.9 480.3 205.4" stroke="#86a644" stroke-width="0.7" fill="none" opacity=".6"/><path d="M490.3 216.7Q490.3 213.2 492.1 209.7" stroke="#75993a" stroke-width="1.2" fill="none" opacity=".6"/>
<path d="M495.4 217L495.5 217.0L497.2 210.6L498.8 205.4L500.5 205.8L502.1 202.7L503.2 204.2L505.0 202.8L507.0 203.5L508.1 202.8L510.5 204.4L511.5 204.7L513.7 208.0L515.0 209.0L516.4 217.0L516.6 217Z" fill="url(#bg)"/><path d="M512.4 217.0Q512.4 213.6 513.8 210.1" stroke="#86a644" stroke-width="1.1" fill="none" opacity=".6"/><path d="M507.0 214.3Q507.0 208.6 507.2 202.9" stroke="#86a644" stroke-width="1.2" fill="none" opacity=".6"/><path d="M513.0 214.8Q513.0 211.8 514.6 208.8" stroke="#75993a" stroke-width="0.8" fill="none" opacity=".6"/><path d="M508.2 215.9Q508.2 210.3 508.7 204.7" stroke="#3e6c19" stroke-width="0.8" fill="none" opacity=".6"/><path d="M509.1 215.0Q509.1 211.9 509.8 208.8" stroke="#3e6c19" stroke-width="1.2" fill="none" opacity=".6"/><path d="M511.4 216.6Q511.4 212.0 512.7 207.4" stroke="#86a644" stroke-width="1.2" fill="none" opacity=".6"/><path d="M506.6 214.3Q506.6 208.6 506.7 203.0" stroke="#325a18" stroke-width="1.3" fill="none" opacity=".6"/><path d="M512.4 215.6Q512.4 212.6 513.8 209.7" stroke="#86a644" stroke-width="1.2" fill="none" opacity=".6"/><path d="M501.9 216.0Q501.9 212.6 501.0 209.2" stroke="#345f15" stroke-width="0.7" fill="none" opacity=".6"/>
<path d="M681.6 217L681.9 217.0L683.2 208.6L685.1 204.4L687.1 204.1L688.5 201.9L690.3 203.7L692.4 202.7L693.8 206.2L695.9 207.6L697.3 217.0L697.4 217Z" fill="url(#bg)"/><path d="M694.0 215.2Q694.0 210.8 695.0 206.4" stroke="#325a18" stroke-width="0.6" fill="none" opacity=".6"/><path d="M688.9 217.0Q688.9 210.8 688.8 204.7" stroke="#3e6c19" stroke-width="0.7" fill="none" opacity=".6"/><path d="M688.0 215.9Q688.0 209.9 687.7 204.0" stroke="#86a644" stroke-width="1.2" fill="none" opacity=".6"/><path d="M691.2 215.3Q691.2 210.9 691.5 206.5" stroke="#325a18" stroke-width="0.9" fill="none" opacity=".6"/><path d="M691.8 215.7Q691.8 212.5 692.4 209.4" stroke="#325a18" stroke-width="0.8" fill="none" opacity=".6"/><path d="M689.7 214.8Q689.7 211.3 689.7 207.8" stroke="#86a644" stroke-width="1.0" fill="none" opacity=".6"/><path d="M684.7 215.9Q684.7 211.9 683.7 208.0" stroke="#86a644" stroke-width="0.9" fill="none" opacity=".6"/>
<path d="M20.1 217L20.3 217.0L21.5 210.1L23.3 205.7L24.8 205.4L26.7 202.4L28.1 203.5L30.4 200.9L31.9 203.4L33.6 202.9L35.2 205.2L36.5 204.9L38.0 210.1L39.9 217.0L39.9 217Z" fill="url(#bg)"/><path d="M35.4 214.3Q35.4 209.7 36.6 205.1" stroke="#325a18" stroke-width="0.9" fill="none" opacity=".6"/><path d="M25.3 216.4Q25.3 213.4 24.3 210.4" stroke="#688f30" stroke-width="1.2" fill="none" opacity=".6"/><path d="M29.0 215.2Q29.0 211.1 28.7 207.1" stroke="#75993a" stroke-width="0.8" fill="none" opacity=".6"/><path d="M26.2 215.1Q26.2 212.1 25.3 209.2" stroke="#345f15" stroke-width="1.2" fill="none" opacity=".6"/><path d="M35.4 216.5Q35.4 212.3 36.7 208.2" stroke="#325a18" stroke-width="0.8" fill="none" opacity=".6"/><path d="M30.2 216.5Q30.2 211.2 30.3 206.0" stroke="#3e6c19" stroke-width="1.3" fill="none" opacity=".6"/><path d="M33.0 216.7Q33.0 212.3 33.7 207.9" stroke="#325a18" stroke-width="1.1" fill="none" opacity=".6"/><path d="M26.9 214.5Q26.9 208.7 26.2 203.0" stroke="#345f15" stroke-width="0.9" fill="none" opacity=".6"/>
<path d="M209.2 217L209.5 217.0L211.2 208.7L212.4 203.6L213.8 203.4L215.7 201.5L217.5 202.6L218.7 201.3L220.4 205.6L222.0 206.8L223.7 217.0L223.8 217Z" fill="url(#bg)"/><path d="M213.0 215.2Q213.0 212.3 212.2 209.3" stroke="#75993a" stroke-width="0.7" fill="none" opacity=".6"/><path d="M216.3 215.7Q216.3 209.0 216.3 202.4" stroke="#688f30" stroke-width="0.9" fill="none" opacity=".6"/><path d="M214.3 215.4Q214.3 210.9 213.8 206.3" stroke="#325a18" stroke-width="0.7" fill="none" opacity=".6"/><path d="M213.2 216.8Q213.2 212.1 212.5 207.4" stroke="#345f15" stroke-width="0.9" fill="none" opacity=".6"/><path d="M215.1 215.7Q215.1 211.3 214.7 206.9" stroke="#86a644" stroke-width="1.2" fill="none" opacity=".6"/><path d="M217.9 215.6Q217.9 209.6 218.3 203.7" stroke="#325a18" stroke-width="0.6" fill="none" opacity=".6"/>
<path d="M706.2 217L706.4 217.0L708.0 209.7L709.4 204.8L711.0 205.1L712.9 202.2L714.7 203.3L715.9 201.6L717.8 203.0L719.4 201.3L721.2 203.7L722.4 203.5L723.8 206.7L726.0 207.6L727.2 217.0L727.4 217Z" fill="url(#bg)"/><path d="M716.5 215.5Q716.5 210.9 716.4 206.3" stroke="#345f15" stroke-width="0.8" fill="none" opacity=".6"/><path d="M717.3 214.2Q717.3 208.7 717.4 203.2" stroke="#688f30" stroke-width="0.7" fill="none" opacity=".6"/><path d="M713.3 215.2Q713.3 210.4 712.5 205.7" stroke="#75993a" stroke-width="0.6" fill="none" opacity=".6"/><path d="M721.1 216.8Q721.1 211.6 722.1 206.4" stroke="#86a644" stroke-width="1.0" fill="none" opacity=".6"/><path d="M713.6 216.0Q713.6 210.4 712.9 204.7" stroke="#3e6c19" stroke-width="1.3" fill="none" opacity=".6"/><path d="M715.0 216.8Q715.0 212.8 714.6 208.8" stroke="#86a644" stroke-width="1.2" fill="none" opacity=".6"/><path d="M711.7 216.3Q711.7 213.5 710.6 210.7" stroke="#75993a" stroke-width="0.7" fill="none" opacity=".6"/><path d="M723.6 214.3Q723.6 212.1 725.1 209.9" stroke="#3e6c19" stroke-width="1.0" fill="none" opacity=".6"/><path d="M722.9 216.7Q722.9 212.3 724.2 207.8" stroke="#688f30" stroke-width="1.2" fill="none" opacity=".6"/>
<path d="M288.4 217L288.4 217.0L290.1 208.3L292.0 203.1L293.3 202.6L295.0 200.5L296.6 201.1L298.9 200.4L300.4 202.6L301.9 203.8L304.2 208.0L305.3 217.0L305.6 217Z" fill="url(#bg)"/><path d="M301.2 216.0Q301.2 212.0 302.1 208.0" stroke="#688f30" stroke-width="0.8" fill="none" opacity=".6"/><path d="M302.5 214.0Q302.5 210.4 303.8 206.8" stroke="#3e6c19" stroke-width="0.7" fill="none" opacity=".6"/><path d="M301.6 214.6Q301.6 210.3 302.6 205.9" stroke="#86a644" stroke-width="0.6" fill="none" opacity=".6"/><path d="M297.4 215.0Q297.4 211.2 297.4 207.4" stroke="#688f30" stroke-width="1.0" fill="none" opacity=".6"/><path d="M301.5 217.0Q301.5 213.1 302.5 209.1" stroke="#345f15" stroke-width="1.0" fill="none" opacity=".6"/><path d="M295.1 215.8Q295.1 209.0 294.7 202.3" stroke="#345f15" stroke-width="1.2" fill="none" opacity=".6"/><path d="M297.7 216.6Q297.7 212.3 297.9 208.1" stroke="#688f30" stroke-width="0.7" fill="none" opacity=".6"/>
<path d="M421.1 217L421.1 217.0L423.0 208.1L424.8 201.9L426.4 201.6L427.8 198.9L429.5 199.1L431.4 196.7L432.7 198.4L434.4 196.1L436.2 199.3L438.2 198.2L439.9 201.3L441.6 202.8L443.4 207.8L444.9 217.0L444.9 217Z" fill="url(#bg)"/><path d="M433.7 214.1Q433.7 206.0 433.9 197.8" stroke="#345f15" stroke-width="0.9" fill="none" opacity=".6"/><path d="M438.3 216.9Q438.3 211.7 439.5 206.6" stroke="#345f15" stroke-width="1.0" fill="none" opacity=".6"/><path d="M439.6 215.2Q439.6 210.8 441.1 206.3" stroke="#345f15" stroke-width="0.7" fill="none" opacity=".6"/><path d="M437.5 216.7Q437.5 211.8 438.5 206.9" stroke="#345f15" stroke-width="1.0" fill="none" opacity=".6"/><path d="M432.0 214.4Q432.0 206.4 431.7 198.5" stroke="#345f15" stroke-width="1.1" fill="none" opacity=".6"/><path d="M435.4 216.7Q435.4 210.4 435.9 204.0" stroke="#86a644" stroke-width="0.8" fill="none" opacity=".6"/><path d="M426.0 216.2Q426.0 211.0 424.4 205.8" stroke="#3e6c19" stroke-width="1.2" fill="none" opacity=".6"/><path d="M440.2 214.0Q440.2 209.9 441.8 205.9" stroke="#325a18" stroke-width="1.1" fill="none" opacity=".6"/><path d="M435.4 216.2Q435.4 209.2 435.9 202.2" stroke="#75993a" stroke-width="0.9" fill="none" opacity=".6"/><path d="M440.3 215.6Q440.3 212.5 441.9 209.4" stroke="#86a644" stroke-width="1.2" fill="none" opacity=".6"/>
<path d="M65.1 217L65.0 217.0L67.1 208.0L68.8 202.4L70.3 201.7L71.5 197.9L73.2 198.7L74.6 196.7L76.9 197.2L78.3 195.4L79.5 197.0L81.7 195.7L83.4 197.7L84.9 196.8L86.6 200.1L87.7 200.6L89.4 204.7L91.0 205.8L92.5 217.0L92.9 217Z" fill="url(#bg)"/><path d="M72.6 214.0Q72.6 209.1 71.2 204.1" stroke="#345f15" stroke-width="1.0" fill="none" opacity=".6"/><path d="M79.6 214.4Q79.6 207.6 79.8 200.8" stroke="#345f15" stroke-width="0.9" fill="none" opacity=".6"/><path d="M78.4 216.1Q78.4 211.1 78.3 206.1" stroke="#688f30" stroke-width="0.8" fill="none" opacity=".6"/><path d="M78.3 214.5Q78.3 205.3 78.2 196.0" stroke="#75993a" stroke-width="0.7" fill="none" opacity=".6"/><path d="M82.5 215.3Q82.5 209.1 83.2 202.8" stroke="#3e6c19" stroke-width="1.2" fill="none" opacity=".6"/><path d="M86.5 215.6Q86.5 209.0 88.2 202.4" stroke="#325a18" stroke-width="0.9" fill="none" opacity=".6"/><path d="M80.0 214.7Q80.0 207.2 80.2 199.8" stroke="#3e6c19" stroke-width="0.8" fill="none" opacity=".6"/><path d="M71.4 215.9Q71.4 212.1 69.7 208.4" stroke="#3e6c19" stroke-width="0.9" fill="none" opacity=".6"/><path d="M74.9 216.0Q74.9 209.1 74.0 202.3" stroke="#3e6c19" stroke-width="0.8" fill="none" opacity=".6"/><path d="M70.1 216.4Q70.1 213.3 68.1 210.2" stroke="#75993a" stroke-width="0.9" fill="none" opacity=".6"/><path d="M76.5 214.7Q76.5 205.8 76.0 196.9" stroke="#86a644" stroke-width="0.9" fill="none" opacity=".6"/><path d="M87.5 215.1Q87.5 210.5 89.4 205.9" stroke="#86a644" stroke-width="1.1" fill="none" opacity=".6"/>
<path d="M180.2 217L180.2 217.0L182.2 208.3L183.9 203.7L184.8 202.2L186.6 199.0L188.2 199.3L190.3 196.2L192.2 197.6L193.6 194.6L194.8 196.8L196.8 195.7L198.4 197.3L199.8 195.8L202.2 198.2L203.8 197.6L204.9 200.3L207.1 201.4L208.9 204.6L210.5 207.2L211.7 217.0L211.8 217Z" fill="url(#bg)"/><path d="M206.0 215.8Q206.0 211.0 208.3 206.2" stroke="#345f15" stroke-width="1.0" fill="none" opacity=".6"/><path d="M200.3 215.7Q200.3 207.6 201.2 199.6" stroke="#75993a" stroke-width="1.0" fill="none" opacity=".6"/><path d="M194.4 214.4Q194.4 209.6 194.1 204.8" stroke="#345f15" stroke-width="1.3" fill="none" opacity=".6"/><path d="M206.6 215.1Q206.6 211.0 209.0 206.8" stroke="#3e6c19" stroke-width="0.9" fill="none" opacity=".6"/><path d="M193.1 216.6Q193.1 207.8 192.4 199.0" stroke="#75993a" stroke-width="0.8" fill="none" opacity=".6"/><path d="M188.3 216.5Q188.3 212.3 186.5 208.0" stroke="#325a18" stroke-width="1.2" fill="none" opacity=".6"/><path d="M187.9 216.1Q187.9 210.5 186.1 204.8" stroke="#345f15" stroke-width="1.0" fill="none" opacity=".6"/><path d="M194.1 215.4Q194.1 210.6 193.7 205.9" stroke="#345f15" stroke-width="0.8" fill="none" opacity=".6"/><path d="M188.3 214.2Q188.3 210.5 186.5 206.8" stroke="#75993a" stroke-width="0.8" fill="none" opacity=".6"/><path d="M187.2 215.6Q187.2 210.9 185.2 206.3" stroke="#75993a" stroke-width="0.9" fill="none" opacity=".6"/><path d="M186.1 214.1Q186.1 208.3 183.9 202.5" stroke="#345f15" stroke-width="0.9" fill="none" opacity=".6"/><path d="M196.1 214.2Q196.1 206.7 196.1 199.1" stroke="#3e6c19" stroke-width="0.7" fill="none" opacity=".6"/><path d="M190.8 214.7Q190.8 207.2 189.7 199.7" stroke="#75993a" stroke-width="1.1" fill="none" opacity=".6"/><path d="M194.4 216.1Q194.4 209.0 194.0 201.9" stroke="#688f30" stroke-width="0.8" fill="none" opacity=".6"/>
<path d="M307.1 217L307.0 217.0L309.1 206.9L310.5 201.3L311.8 200.3L314.2 197.7L315.3 197.7L316.9 195.1L318.9 196.6L320.9 195.8L322.4 197.8L324.2 197.7L325.9 200.6L327.8 202.1L329.0 206.6L330.6 217.0L330.9 217Z" fill="url(#bg)"/><path d="M312.3 214.9Q312.3 208.3 310.8 201.7" stroke="#75993a" stroke-width="0.8" fill="none" opacity=".6"/><path d="M321.6 216.0Q321.6 211.3 322.2 206.6" stroke="#688f30" stroke-width="1.1" fill="none" opacity=".6"/><path d="M317.9 216.5Q317.9 211.5 317.6 206.5" stroke="#325a18" stroke-width="0.7" fill="none" opacity=".6"/><path d="M315.2 215.1Q315.2 209.2 314.3 203.3" stroke="#86a644" stroke-width="0.9" fill="none" opacity=".6"/><path d="M314.1 215.0Q314.1 209.0 312.9 203.1" stroke="#688f30" stroke-width="0.8" fill="none" opacity=".6"/><path d="M326.0 214.6Q326.0 209.9 327.6 205.3" stroke="#3e6c19" stroke-width="0.6" fill="none" opacity=".6"/><path d="M318.0 215.0Q318.0 210.2 317.8 205.4" stroke="#3e6c19" stroke-width="1.0" fill="none" opacity=".6"/><path d="M326.7 216.9Q326.7 212.2 328.4 207.5" stroke="#345f15" stroke-width="0.7" fill="none" opacity=".6"/><path d="M316.1 216.8Q316.1 209.8 315.5 202.7" stroke="#86a644" stroke-width="0.8" fill="none" opacity=".6"/><path d="M313.7 214.5Q313.7 209.1 312.5 203.6" stroke="#75993a" stroke-width="0.7" fill="none" opacity=".6"/>
<path d="M352.0 217L351.7 217.0L353.7 207.0L355.1 202.1L357.1 201.4L358.3 198.0L360.0 198.2L361.7 195.9L363.3 197.0L365.4 195.3L367.2 197.4L369.0 196.3L370.7 199.2L372.3 199.1L373.5 203.6L375.5 206.2L376.9 217.0L377.0 217Z" fill="url(#bg)"/><path d="M365.5 214.0Q365.5 206.4 365.7 198.8" stroke="#86a644" stroke-width="1.0" fill="none" opacity=".6"/><path d="M364.6 215.7Q364.6 207.9 364.6 200.0" stroke="#3e6c19" stroke-width="0.6" fill="none" opacity=".6"/><path d="M361.0 216.6Q361.0 209.5 360.2 202.4" stroke="#688f30" stroke-width="1.1" fill="none" opacity=".6"/><path d="M364.8 216.3Q364.8 207.2 364.9 198.1" stroke="#325a18" stroke-width="1.0" fill="none" opacity=".6"/><path d="M365.3 216.1Q365.3 207.5 365.4 198.9" stroke="#345f15" stroke-width="1.2" fill="none" opacity=".6"/><path d="M364.2 214.8Q364.2 209.1 364.1 203.4" stroke="#688f30" stroke-width="1.2" fill="none" opacity=".6"/><path d="M368.1 215.6Q368.1 210.9 368.9 206.1" stroke="#75993a" stroke-width="1.1" fill="none" opacity=".6"/><path d="M359.5 216.3Q359.5 209.1 358.4 201.8" stroke="#86a644" stroke-width="1.1" fill="none" opacity=".6"/><path d="M360.3 215.9Q360.3 211.6 359.4 207.2" stroke="#325a18" stroke-width="0.6" fill="none" opacity=".6"/><path d="M362.1 216.9Q362.1 207.9 361.6 199.0" stroke="#325a18" stroke-width="1.2" fill="none" opacity=".6"/><path d="M370.8 216.1Q370.8 209.6 372.2 203.1" stroke="#75993a" stroke-width="0.8" fill="none" opacity=".6"/>
<path d="M377.9 217L378.2 217.0L379.6 206.8L381.0 201.3L383.0 200.1L384.7 196.2L386.0 197.6L387.5 195.2L389.1 197.1L390.8 196.1L392.8 198.7L394.5 198.8L395.8 203.0L397.7 205.5L398.8 217.0L399.1 217Z" fill="url(#bg)"/><path d="M394.3 215.7Q394.3 211.0 395.6 206.2" stroke="#325a18" stroke-width="1.3" fill="none" opacity=".6"/><path d="M395.5 215.8Q395.5 212.7 397.1 209.7" stroke="#345f15" stroke-width="1.1" fill="none" opacity=".6"/><path d="M383.0 216.0Q383.0 212.1 381.7 208.1" stroke="#345f15" stroke-width="1.0" fill="none" opacity=".6"/><path d="M384.0 216.9Q384.0 210.3 383.0 203.7" stroke="#325a18" stroke-width="0.8" fill="none" opacity=".6"/><path d="M382.7 214.9Q382.7 208.6 381.4 202.3" stroke="#3e6c19" stroke-width="0.8" fill="none" opacity=".6"/><path d="M389.7 215.3Q389.7 209.1 390.0 202.9" stroke="#345f15" stroke-width="1.0" fill="none" opacity=".6"/><path d="M388.7 214.4Q388.7 209.3 388.8 204.2" stroke="#688f30" stroke-width="0.7" fill="none" opacity=".6"/><path d="M384.4 216.1Q384.4 210.3 383.4 204.5" stroke="#75993a" stroke-width="0.6" fill="none" opacity=".6"/><path d="M384.6 216.0Q384.6 210.2 383.7 204.4" stroke="#86a644" stroke-width="1.2" fill="none" opacity=".6"/>
<path d="M541.6 217L541.7 217.0L542.9 206.9L545.1 201.2L546.7 200.4L548.5 197.2L549.7 197.2L551.5 195.6L553.3 196.8L554.5 195.2L555.9 197.8L558.1 197.6L559.9 200.6L561.1 202.1L562.3 206.8L564.0 217.0L564.4 217Z" fill="url(#bg)"/><path d="M551.0 215.7Q551.0 208.8 550.5 201.9" stroke="#75993a" stroke-width="1.2" fill="none" opacity=".6"/><path d="M550.7 215.9Q550.7 208.1 550.1 200.3" stroke="#345f15" stroke-width="1.0" fill="none" opacity=".6"/><path d="M552.9 215.9Q552.9 207.1 552.9 198.3" stroke="#3e6c19" stroke-width="0.8" fill="none" opacity=".6"/><path d="M551.3 214.5Q551.3 207.1 550.9 199.6" stroke="#325a18" stroke-width="1.0" fill="none" opacity=".6"/><path d="M549.7 216.7Q549.7 208.2 548.9 199.7" stroke="#75993a" stroke-width="1.2" fill="none" opacity=".6"/><path d="M550.9 214.0Q550.9 206.5 550.5 199.0" stroke="#3e6c19" stroke-width="0.8" fill="none" opacity=".6"/><path d="M558.3 216.0Q558.3 210.6 559.5 205.3" stroke="#75993a" stroke-width="0.8" fill="none" opacity=".6"/><path d="M545.3 214.0Q545.3 211.0 543.6 208.1" stroke="#325a18" stroke-width="0.9" fill="none" opacity=".6"/><path d="M551.5 216.3Q551.5 208.0 551.2 199.6" stroke="#688f30" stroke-width="0.7" fill="none" opacity=".6"/><path d="M559.4 214.6Q559.4 211.1 560.9 207.6" stroke="#688f30" stroke-width="0.8" fill="none" opacity=".6"/>
<path d="M588.6 217L588.8 217.0L590.3 207.2L591.8 201.6L593.8 200.3L595.2 196.9L596.8 197.7L598.5 195.1L600.4 196.6L601.9 195.2L604.0 197.6L605.4 197.7L607.3 200.8L609.2 201.4L610.5 207.1L612.6 217.0L612.4 217Z" fill="url(#bg)"/><path d="M601.6 214.7Q601.6 208.3 601.8 202.0" stroke="#688f30" stroke-width="1.0" fill="none" opacity=".6"/><path d="M595.1 216.8Q595.1 209.4 593.9 202.0" stroke="#345f15" stroke-width="1.0" fill="none" opacity=".6"/><path d="M593.0 214.2Q593.0 208.6 591.3 203.1" stroke="#86a644" stroke-width="0.7" fill="none" opacity=".6"/><path d="M605.5 216.8Q605.5 209.2 606.6 201.6" stroke="#325a18" stroke-width="0.6" fill="none" opacity=".6"/><path d="M602.4 216.3Q602.4 211.3 602.8 206.3" stroke="#86a644" stroke-width="0.9" fill="none" opacity=".6"/><path d="M596.3 216.5Q596.3 210.9 595.3 205.4" stroke="#86a644" stroke-width="0.8" fill="none" opacity=".6"/><path d="M592.8 216.0Q592.8 213.1 591.1 210.1" stroke="#345f15" stroke-width="0.6" fill="none" opacity=".6"/><path d="M604.0 216.8Q604.0 209.5 604.8 202.1" stroke="#86a644" stroke-width="0.8" fill="none" opacity=".6"/><path d="M607.3 214.3Q607.3 208.2 608.8 202.1" stroke="#688f30" stroke-width="1.0" fill="none" opacity=".6"/><path d="M608.1 215.3Q608.1 212.5 609.8 209.8" stroke="#345f15" stroke-width="1.1" fill="none" opacity=".6"/>
<path d="M608.3 217L608.0 217.0L610.0 208.0L611.9 202.2L613.4 201.2L615.1 198.1L616.3 198.3L618.0 195.1L620.1 197.0L621.7 195.4L622.9 196.7L625.2 196.2L626.5 198.2L627.7 198.0L629.9 201.7L631.3 201.8L632.9 207.4L634.8 217.0L634.7 217Z" fill="url(#bg)"/><path d="M619.8 215.4Q619.8 210.1 619.4 204.7" stroke="#3e6c19" stroke-width="0.9" fill="none" opacity=".6"/><path d="M621.6 214.6Q621.6 209.0 621.6 203.3" stroke="#86a644" stroke-width="0.8" fill="none" opacity=".6"/><path d="M622.8 214.3Q622.8 208.4 623.1 202.5" stroke="#75993a" stroke-width="1.0" fill="none" opacity=".6"/><path d="M621.2 215.9Q621.2 208.4 621.1 201.0" stroke="#3e6c19" stroke-width="0.8" fill="none" opacity=".6"/><path d="M627.0 214.4Q627.0 209.2 628.3 204.0" stroke="#3e6c19" stroke-width="1.0" fill="none" opacity=".6"/><path d="M623.3 215.1Q623.3 209.9 623.7 204.7" stroke="#3e6c19" stroke-width="0.8" fill="none" opacity=".6"/><path d="M628.0 214.6Q628.0 208.5 629.5 202.3" stroke="#688f30" stroke-width="0.9" fill="none" opacity=".6"/><path d="M624.6 214.1Q624.6 208.8 625.3 203.5" stroke="#345f15" stroke-width="0.7" fill="none" opacity=".6"/><path d="M615.6 214.3Q615.6 209.2 614.3 204.1" stroke="#86a644" stroke-width="1.2" fill="none" opacity=".6"/><path d="M619.5 216.6Q619.5 211.1 619.0 205.6" stroke="#325a18" stroke-width="1.2" fill="none" opacity=".6"/><path d="M615.4 215.2Q615.4 210.7 614.1 206.2" stroke="#86a644" stroke-width="1.0" fill="none" opacity=".6"/>
<path d="M655.8 217L655.4 217.0L657.2 208.0L659.3 203.0L660.8 201.5L662.6 198.4L664.2 198.1L665.8 196.1L667.2 196.9L668.7 195.0L670.8 196.9L672.3 196.3L673.6 198.5L675.9 197.6L677.0 201.1L678.7 203.0L680.5 207.3L682.0 217.0L682.2 217Z" fill="url(#bg)"/><path d="M668.3 215.9Q668.3 207.5 668.2 199.0" stroke="#86a644" stroke-width="0.9" fill="none" opacity=".6"/><path d="M673.6 214.4Q673.6 209.7 674.6 205.0" stroke="#86a644" stroke-width="0.7" fill="none" opacity=".6"/><path d="M672.5 214.7Q672.5 205.8 673.3 197.0" stroke="#3e6c19" stroke-width="0.8" fill="none" opacity=".6"/><path d="M665.7 215.8Q665.7 208.5 664.9 201.1" stroke="#325a18" stroke-width="0.9" fill="none" opacity=".6"/><path d="M665.6 216.8Q665.6 208.1 664.9 199.5" stroke="#325a18" stroke-width="1.1" fill="none" opacity=".6"/><path d="M672.2 215.2Q672.2 208.4 672.9 201.5" stroke="#688f30" stroke-width="0.8" fill="none" opacity=".6"/><path d="M674.9 214.3Q674.9 207.2 676.2 200.2" stroke="#3e6c19" stroke-width="1.1" fill="none" opacity=".6"/><path d="M670.1 215.6Q670.1 208.2 670.3 200.8" stroke="#3e6c19" stroke-width="1.3" fill="none" opacity=".6"/><path d="M669.2 216.6Q669.2 208.7 669.2 200.7" stroke="#688f30" stroke-width="1.3" fill="none" opacity=".6"/><path d="M660.3 215.1Q660.3 210.9 658.3 206.6" stroke="#3e6c19" stroke-width="0.9" fill="none" opacity=".6"/><path d="M662.4 216.1Q662.4 209.9 660.9 203.7" stroke="#86a644" stroke-width="1.3" fill="none" opacity=".6"/>
<path d="M114.6 217L114.5 217.0L116.2 206.1L118.2 201.0L119.5 199.8L121.0 196.9L122.7 196.3L125.0 194.6L126.2 195.8L128.3 194.8L129.7 197.1L131.9 195.9L133.4 200.0L135.2 200.7L136.4 206.8L138.4 217.0L138.4 217Z" fill="url(#bg)"/><path d="M125.6 216.7Q125.6 207.2 125.4 197.7" stroke="#688f30" stroke-width="1.3" fill="none" opacity=".6"/><path d="M123.6 215.1Q123.6 206.5 123.0 197.9" stroke="#688f30" stroke-width="1.0" fill="none" opacity=".6"/><path d="M127.4 214.5Q127.4 206.7 127.6 198.9" stroke="#86a644" stroke-width="0.9" fill="none" opacity=".6"/><path d="M132.5 216.4Q132.5 211.0 133.9 205.6" stroke="#325a18" stroke-width="0.8" fill="none" opacity=".6"/><path d="M120.9 215.4Q120.9 209.8 119.6 204.2" stroke="#75993a" stroke-width="1.2" fill="none" opacity=".6"/><path d="M122.3 215.3Q122.3 209.1 121.3 202.9" stroke="#345f15" stroke-width="1.0" fill="none" opacity=".6"/><path d="M129.1 214.6Q129.1 205.6 129.7 196.6" stroke="#688f30" stroke-width="1.1" fill="none" opacity=".6"/><path d="M119.4 214.2Q119.4 210.6 117.9 207.0" stroke="#75993a" stroke-width="1.0" fill="none" opacity=".6"/><path d="M131.6 214.6Q131.6 209.0 132.8 203.4" stroke="#688f30" stroke-width="0.7" fill="none" opacity=".6"/><path d="M118.9 215.5Q118.9 210.8 117.1 206.0" stroke="#345f15" stroke-width="1.0" fill="none" opacity=".6"/>
<path d="M136.3 217L136.0 217.0L138.3 207.0L139.7 201.8L141.6 200.5L143.3 197.1L144.7 197.4L145.8 195.1L147.8 195.5L149.3 193.9L151.4 196.1L152.6 194.6L154.1 197.4L156.0 197.2L157.9 200.7L159.1 201.7L160.9 207.2L162.6 217.0L162.7 217Z" fill="url(#bg)"/><path d="M155.5 216.1Q155.5 210.9 156.8 205.6" stroke="#3e6c19" stroke-width="0.9" fill="none" opacity=".6"/><path d="M156.5 216.2Q156.5 209.0 158.1 201.8" stroke="#3e6c19" stroke-width="1.3" fill="none" opacity=".6"/><path d="M157.5 216.2Q157.5 210.4 159.2 204.6" stroke="#325a18" stroke-width="1.2" fill="none" opacity=".6"/><path d="M142.9 215.4Q142.9 211.0 141.5 206.7" stroke="#325a18" stroke-width="0.6" fill="none" opacity=".6"/><path d="M145.1 214.9Q145.1 208.8 144.2 202.7" stroke="#86a644" stroke-width="1.0" fill="none" opacity=".6"/><path d="M144.0 215.6Q144.0 208.5 142.8 201.3" stroke="#345f15" stroke-width="0.8" fill="none" opacity=".6"/><path d="M154.9 216.4Q154.9 209.6 156.1 202.7" stroke="#325a18" stroke-width="1.1" fill="none" opacity=".6"/><path d="M141.3 216.4Q141.3 210.4 139.5 204.4" stroke="#688f30" stroke-width="1.1" fill="none" opacity=".6"/><path d="M144.0 215.0Q144.0 208.5 142.8 201.9" stroke="#86a644" stroke-width="0.8" fill="none" opacity=".6"/><path d="M152.3 215.8Q152.3 209.2 153.0 202.6" stroke="#688f30" stroke-width="1.3" fill="none" opacity=".6"/><path d="M157.8 214.7Q157.8 208.7 159.7 202.8" stroke="#688f30" stroke-width="0.6" fill="none" opacity=".6"/>
<path d="M329.1 217L329.3 217.0L330.8 206.2L332.3 201.3L334.3 199.8L335.5 196.0L337.7 196.0L338.7 192.7L340.3 194.1L342.5 192.6L343.8 193.7L345.5 191.9L347.1 194.5L349.0 193.7L350.2 197.9L351.7 198.6L354.0 202.8L355.2 205.4L357.0 217.0L356.9 217Z" fill="url(#bg)"/><path d="M348.4 216.7Q348.4 207.6 349.6 198.6" stroke="#688f30" stroke-width="0.8" fill="none" opacity=".6"/><path d="M334.0 216.7Q334.0 211.4 332.0 206.1" stroke="#325a18" stroke-width="1.1" fill="none" opacity=".6"/><path d="M335.3 215.7Q335.3 211.0 333.5 206.4" stroke="#345f15" stroke-width="0.9" fill="none" opacity=".6"/><path d="M352.2 214.3Q352.2 211.0 354.3 207.7" stroke="#325a18" stroke-width="0.6" fill="none" opacity=".6"/><path d="M347.0 214.6Q347.0 206.1 347.9 197.6" stroke="#325a18" stroke-width="0.7" fill="none" opacity=".6"/><path d="M341.1 214.3Q341.1 206.6 340.7 198.8" stroke="#75993a" stroke-width="0.9" fill="none" opacity=".6"/><path d="M337.2 214.9Q337.2 207.7 335.9 200.6" stroke="#86a644" stroke-width="1.0" fill="none" opacity=".6"/><path d="M344.9 214.2Q344.9 204.6 345.3 195.0" stroke="#325a18" stroke-width="1.1" fill="none" opacity=".6"/><path d="M334.5 215.5Q334.5 210.4 332.5 205.3" stroke="#345f15" stroke-width="0.8" fill="none" opacity=".6"/><path d="M346.9 214.2Q346.9 205.9 347.8 197.7" stroke="#86a644" stroke-width="0.8" fill="none" opacity=".6"/><path d="M341.7 215.4Q341.7 207.7 341.4 199.9" stroke="#688f30" stroke-width="1.1" fill="none" opacity=".6"/><path d="M339.6 216.7Q339.6 208.4 338.8 200.1" stroke="#345f15" stroke-width="0.8" fill="none" opacity=".6"/>
<path d="M391.6 217L392.0 217.0L393.0 206.2L394.8 200.8L396.9 200.0L398.4 196.0L399.5 196.0L401.2 192.5L403.0 193.7L404.7 192.7L406.7 193.6L408.2 192.6L409.6 195.0L411.1 194.7L412.8 197.5L414.5 197.8L416.2 202.3L417.5 204.3L419.0 217.0L419.4 217Z" fill="url(#bg)"/><path d="M397.8 216.8Q397.8 211.4 396.1 205.9" stroke="#688f30" stroke-width="1.1" fill="none" opacity=".6"/><path d="M414.3 214.5Q414.3 209.4 416.3 204.3" stroke="#325a18" stroke-width="0.8" fill="none" opacity=".6"/><path d="M414.1 215.1Q414.1 210.4 416.1 205.8" stroke="#345f15" stroke-width="0.9" fill="none" opacity=".6"/><path d="M406.0 216.7Q406.0 210.8 406.1 204.8" stroke="#86a644" stroke-width="0.7" fill="none" opacity=".6"/><path d="M409.9 214.6Q409.9 206.7 410.8 198.9" stroke="#345f15" stroke-width="1.1" fill="none" opacity=".6"/><path d="M404.9 214.7Q404.9 204.7 404.8 194.8" stroke="#75993a" stroke-width="0.6" fill="none" opacity=".6"/><path d="M412.6 215.0Q412.6 209.8 414.2 204.6" stroke="#345f15" stroke-width="1.2" fill="none" opacity=".6"/><path d="M412.9 216.3Q412.9 210.1 414.6 203.9" stroke="#688f30" stroke-width="0.7" fill="none" opacity=".6"/><path d="M407.9 215.2Q407.9 209.7 408.5 204.1" stroke="#75993a" stroke-width="1.0" fill="none" opacity=".6"/><path d="M413.6 215.3Q413.6 208.3 415.4 201.4" stroke="#325a18" stroke-width="1.2" fill="none" opacity=".6"/><path d="M408.5 215.7Q408.5 206.0 409.2 196.2" stroke="#86a644" stroke-width="1.1" fill="none" opacity=".6"/><path d="M414.3 215.1Q414.3 210.4 416.3 205.7" stroke="#86a644" stroke-width="1.2" fill="none" opacity=".6"/>
<path d="M93.1 217L93.0 217.0L94.5 206.1L96.6 199.8L97.8 198.9L99.4 194.3L101.5 194.7L103.1 191.6L104.9 193.1L106.3 190.5L108.1 192.2L109.1 190.8L111.4 193.6L112.4 192.6L114.6 196.5L115.8 196.4L117.6 201.6L118.9 204.0L121.1 217.0L120.9 217Z" fill="url(#bg)"/><path d="M97.6 214.5Q97.6 209.6 95.5 204.6" stroke="#86a644" stroke-width="0.6" fill="none" opacity=".6"/><path d="M103.8 216.5Q103.8 210.4 103.1 204.3" stroke="#75993a" stroke-width="1.0" fill="none" opacity=".6"/><path d="M98.3 214.4Q98.3 207.9 96.4 201.5" stroke="#688f30" stroke-width="1.0" fill="none" opacity=".6"/><path d="M100.3 214.5Q100.3 206.5 98.8 198.4" stroke="#3e6c19" stroke-width="1.2" fill="none" opacity=".6"/><path d="M100.5 216.1Q100.5 207.5 99.0 198.9" stroke="#345f15" stroke-width="1.2" fill="none" opacity=".6"/><path d="M113.1 216.7Q113.1 208.5 114.5 200.3" stroke="#688f30" stroke-width="1.0" fill="none" opacity=".6"/><path d="M113.3 214.0Q113.3 207.9 114.7 201.8" stroke="#3e6c19" stroke-width="1.2" fill="none" opacity=".6"/><path d="M103.5 214.9Q103.5 206.0 102.7 197.0" stroke="#86a644" stroke-width="1.0" fill="none" opacity=".6"/><path d="M102.8 216.2Q102.8 208.2 101.8 200.2" stroke="#3e6c19" stroke-width="1.0" fill="none" opacity=".6"/><path d="M104.6 216.5Q104.6 207.2 104.0 197.9" stroke="#345f15" stroke-width="1.1" fill="none" opacity=".6"/><path d="M99.9 214.7Q99.9 207.1 98.3 199.6" stroke="#75993a" stroke-width="0.8" fill="none" opacity=".6"/><path d="M111.5 214.2Q111.5 205.6 112.6 197.0" stroke="#325a18" stroke-width="0.7" fill="none" opacity=".6"/>
<path d="M155.1 217L155.0 217.0L156.5 206.3L158.6 200.7L160.2 198.4L161.5 195.5L163.6 195.0L164.9 192.2L166.4 192.5L168.4 191.2L170.0 192.6L171.6 191.2L173.0 193.4L174.5 193.5L176.1 196.7L177.8 197.3L179.7 202.0L181.1 204.4L183.2 217.0L182.9 217Z" fill="url(#bg)"/><path d="M168.1 215.3Q168.1 204.8 167.8 194.3" stroke="#75993a" stroke-width="0.9" fill="none" opacity=".6"/><path d="M167.0 216.3Q167.0 206.8 166.6 197.4" stroke="#86a644" stroke-width="0.7" fill="none" opacity=".6"/><path d="M167.7 214.0Q167.7 205.7 167.4 197.4" stroke="#688f30" stroke-width="1.2" fill="none" opacity=".6"/><path d="M177.8 216.0Q177.8 210.4 179.7 204.8" stroke="#325a18" stroke-width="1.0" fill="none" opacity=".6"/><path d="M173.5 214.2Q173.5 205.7 174.6 197.2" stroke="#75993a" stroke-width="0.9" fill="none" opacity=".6"/><path d="M162.0 216.0Q162.0 208.1 160.4 200.2" stroke="#75993a" stroke-width="1.2" fill="none" opacity=".6"/><path d="M176.7 214.2Q176.7 208.3 178.4 202.3" stroke="#325a18" stroke-width="0.7" fill="none" opacity=".6"/><path d="M176.9 215.1Q176.9 207.8 178.7 200.5" stroke="#688f30" stroke-width="1.1" fill="none" opacity=".6"/><path d="M174.6 216.2Q174.6 208.8 175.9 201.3" stroke="#688f30" stroke-width="0.9" fill="none" opacity=".6"/><path d="M175.2 216.4Q175.2 208.2 176.6 200.1" stroke="#688f30" stroke-width="1.3" fill="none" opacity=".6"/><path d="M173.3 214.9Q173.3 206.2 174.3 197.5" stroke="#345f15" stroke-width="0.7" fill="none" opacity=".6"/><path d="M178.0 216.3Q178.0 211.9 180.0 207.4" stroke="#688f30" stroke-width="0.9" fill="none" opacity=".6"/>
<path d="M565.0 217L565.1 217.0L566.5 206.3L568.0 200.6L569.5 199.0L571.6 195.0L573.2 195.6L574.8 192.3L576.4 192.9L578.3 191.0L579.4 192.3L581.3 190.3L582.7 192.7L584.5 192.4L585.6 195.5L587.2 195.6L589.2 198.9L591.1 200.8L592.1 206.2L593.8 217.0L594.0 217Z" fill="url(#bg)"/><path d="M573.7 216.7Q573.7 211.1 572.4 205.5" stroke="#325a18" stroke-width="1.2" fill="none" opacity=".6"/><path d="M575.6 216.8Q575.6 208.6 574.7 200.3" stroke="#86a644" stroke-width="0.9" fill="none" opacity=".6"/><path d="M572.1 216.8Q572.1 211.1 570.4 205.4" stroke="#86a644" stroke-width="0.9" fill="none" opacity=".6"/><path d="M584.0 215.9Q584.0 205.6 585.0 195.3" stroke="#75993a" stroke-width="0.7" fill="none" opacity=".6"/><path d="M573.2 214.6Q573.2 207.7 571.8 200.9" stroke="#86a644" stroke-width="1.2" fill="none" opacity=".6"/><path d="M584.6 216.6Q584.6 208.0 585.8 199.3" stroke="#688f30" stroke-width="1.1" fill="none" opacity=".6"/><path d="M570.9 216.1Q570.9 211.0 569.0 205.9" stroke="#75993a" stroke-width="1.0" fill="none" opacity=".6"/><path d="M582.2 216.7Q582.2 209.4 582.9 202.1" stroke="#3e6c19" stroke-width="1.0" fill="none" opacity=".6"/><path d="M575.9 217.0Q575.9 207.9 575.1 198.9" stroke="#688f30" stroke-width="1.1" fill="none" opacity=".6"/><path d="M583.8 216.1Q583.8 209.7 584.8 203.2" stroke="#86a644" stroke-width="0.8" fill="none" opacity=".6"/><path d="M573.7 215.1Q573.7 207.5 572.4 199.9" stroke="#688f30" stroke-width="1.0" fill="none" opacity=".6"/><path d="M585.7 214.0Q585.7 207.5 587.1 201.0" stroke="#345f15" stroke-width="1.0" fill="none" opacity=".6"/><path d="M584.5 215.2Q584.5 206.7 585.6 198.1" stroke="#86a644" stroke-width="1.1" fill="none" opacity=".6"/>
<path d="M628.5 217L628.2 217.0L630.1 206.6L631.7 200.1L633.5 198.7L634.9 195.7L636.4 194.8L638.4 192.2L639.7 193.2L641.5 190.7L643.0 192.2L644.8 190.9L646.1 192.9L647.5 192.6L649.6 195.1L650.8 195.2L652.4 199.3L654.0 200.1L655.7 206.0L657.3 217.0L657.5 217Z" fill="url(#bg)"/><path d="M650.6 214.2Q650.6 208.8 652.3 203.3" stroke="#86a644" stroke-width="1.1" fill="none" opacity=".6"/><path d="M651.3 216.0Q651.3 209.5 653.2 203.1" stroke="#86a644" stroke-width="0.6" fill="none" opacity=".6"/><path d="M639.6 216.0Q639.6 209.6 638.9 203.1" stroke="#688f30" stroke-width="0.8" fill="none" opacity=".6"/><path d="M639.9 214.8Q639.9 205.9 639.2 196.9" stroke="#75993a" stroke-width="0.6" fill="none" opacity=".6"/><path d="M650.9 216.2Q650.9 211.2 652.7 206.3" stroke="#345f15" stroke-width="1.0" fill="none" opacity=".6"/><path d="M639.9 215.5Q639.9 207.7 639.2 200.0" stroke="#345f15" stroke-width="1.0" fill="none" opacity=".6"/><path d="M641.9 216.1Q641.9 207.5 641.7 198.9" stroke="#86a644" stroke-width="0.6" fill="none" opacity=".6"/><path d="M641.4 215.1Q641.4 208.1 641.1 201.0" stroke="#3e6c19" stroke-width="0.9" fill="none" opacity=".6"/><path d="M639.6 216.6Q639.6 206.4 638.9 196.3" stroke="#325a18" stroke-width="1.1" fill="none" opacity=".6"/><path d="M637.8 216.3Q637.8 210.0 636.6 203.8" stroke="#3e6c19" stroke-width="1.1" fill="none" opacity=".6"/><path d="M637.8 215.4Q637.8 206.2 636.7 197.0" stroke="#75993a" stroke-width="1.2" fill="none" opacity=".6"/><path d="M640.5 216.8Q640.5 207.6 639.9 198.5" stroke="#3e6c19" stroke-width="0.9" fill="none" opacity=".6"/><path d="M652.5 216.4Q652.5 211.0 654.7 205.6" stroke="#345f15" stroke-width="0.7" fill="none" opacity=".6"/>
<rect x="16" y="233.2" width="90" height="5" fill="#149a4f"/>
<rect x="135.5" y="233.2" width="37.0" height="5" fill="#149a4f"/>
<rect x="260.5" y="233.2" width="36.0" height="5" fill="#149a4f"/>
<rect x="316" y="233.2" width="52" height="5" fill="#149a4f"/>
<rect x="386" y="233.2" width="40" height="5" fill="#149a4f"/>
<rect x="482" y="233.2" width="40" height="5" fill="#149a4f"/>
<rect x="543" y="233.2" width="47" height="5" fill="#149a4f"/>
<rect x="609" y="233.2" width="52" height="5" fill="#149a4f"/>
<rect x="675" y="233.2" width="47" height="5" fill="#149a4f"/>
<path d="M425 235.7 C434 235.7 437 233.6 444 230.4" fill="none" stroke="#149a4f" stroke-width="5"/>
<path d="M483 235.7 C474 235.7 471 233.6 463.6 230.4" fill="none" stroke="#149a4f" stroke-width="5"/>
<rect x="43" y="194.3" width="5" height="9.7" fill="#149a4f"/>
<path d="M45.5 210.2 L45.5 226 Q45.5 233.5 53 235.5" fill="none" stroke="#149a4f" stroke-width="4.4"/>
<rect x="305.8" y="154.5" width="5.2" height="67" fill="#149a4f"/>
<rect x="306.1" y="110.3" width="4.9" height="11.4" fill="#149a4f"/>
<rect x="319.7" y="94.1" width="66.5" height="4.8" fill="#149a4f"/>
<path d="M408.5 96.2 H480" stroke="#f08519" stroke-width="3.7" stroke-dasharray="6.3 4.43" fill="none"/>
<path d="M599.5 219.8 V130" stroke="#f08519" stroke-width="3.6" stroke-dasharray="6.2 4.3" fill="none"/>
<path d="M333 138 H432" stroke="#b31f9a" stroke-width="1.3" stroke-dasharray="4.4 3.5" fill="none"/>
<path d="M744 194.6 L747.6 194 L748.2 198 L745 198.6 Z" fill="#149a4f"/>
<path d="M741.4 199.6 Q737.6 202.6 737 208.6" fill="none" stroke="#149a4f" stroke-width="4.4"/>
<path d="M736.9 213.9 V223" fill="none" stroke="#149a4f" stroke-width="4.1"/>
<path d="M736.2 221 L740.2 227.8 L745.8 221" stroke="#149a4f" stroke-width="3.5" fill="none"/>
<path d="M741.6 225.5 L736 232.4" stroke="#149a4f" stroke-width="4.4" fill="none"/>
<path d="M725.3 236 L735.6 228.6 L734.4 233.5 L741 233.5 L741 238.4 L734.4 238.4 L735.6 243.4 Z" fill="#149a4f"/>
<rect x="743.5" y="233.6" width="9.6" height="3.6" fill="#149a4f"/>
<path d="M733.6 239.6 Q736.8 243 736.9 247.2 M736.9 249.2 V259.4 M736.9 262.4 V273.4 M737 276.4 Q737 283 738.2 288.6 M739 291.4 Q741.4 298.2 748.2 298.3" fill="none" stroke="#149a4f" stroke-width="4.8"/>
<use href="#clb" x="91.1" y="221.3"/>
<use href="#clb" x="138.6" y="221.3"/>
<use href="#clb" x="158.7" y="221.3"/>
<use href="#clb" x="258" y="221.3"/>
<use href="#clb" x="283.7" y="221.3"/>
<use href="#clb" x="321.9" y="221.3"/>
<use href="#clb" x="352.9" y="221.3"/>
<use href="#clb" x="389.6" y="221.3"/>
<use href="#clb" x="504" y="220.1"/>
<use href="#clb" x="545.2" y="220.1"/>
<use href="#clb" x="572.5" y="220.1"/>
<use href="#clb" x="613.8" y="220.1"/>
<use href="#clb" x="646.1" y="220.1"/>
<use href="#clb" x="673.8" y="220.1"/>
<use href="#clb" x="698.3" y="220.1"/>
<use href="#clb" x="311.4" y="208.6"/>
<use href="#clb" x="430.2" y="213.8"/>
<use href="#clb" x="464.6" y="215.6"/>
<use href="#cl" x="50.8" y="192.3"/>
<use href="#cl" x="320.4" y="81.3"/>
<use href="#cl" x="376.4" y="79.9"/>
<use href="#cl" x="292.2" y="110.1"/>
<use href="#cl" x="739.2" y="182.3"/>
<use href="#cl" x="744" y="203.8"/>
<use href="#cl" x="743" y="238.4"/>
<use href="#cl" x="742" y="305.4"/>
<g stroke-linejoin="round">
<ellipse cx="34.4" cy="171.2" rx="4.3" ry="5.6" fill="#c4c7cb" stroke="#54575b" stroke-width=".9"/>
<ellipse cx="35.1" cy="171.2" rx="2.7" ry="3.8" fill="#63666a"/>
<ellipse cx="35.7" cy="171.2" rx="1.3" ry="2.1" fill="#d9dbde"/>
<rect x="36.8" y="169" width="3" height="4.6" fill="#b4b7bb" stroke="#5d6064" stroke-width=".5"/>
<path d="M38.8 169.4 V160.6 Q38.8 157.4 42 157.4 H50.6 Q52.4 157.6 51.8 158.9 L46 159.9 Q44.8 160.1 44.8 161.3 V168.2 Q49.4 169.8 49.4 175.6 H42.9 Q43 173.7 40.8 173.7 H38.8 Z" fill="url(#sil)" stroke="#5d6064" stroke-width=".75"/>
<path d="M41.2 160 V168.6 M43 160.4 V167" stroke="#6d7074" stroke-width=".7" fill="none"/>
<rect x="42.3" y="175.5" width="7.4" height="2.8" rx=".9" fill="#c8cace" stroke="#5a5d61" stroke-width=".7"/>
</g>
<rect x="41.3" y="181.7" width="9.3" height="6.2" rx="1.2" fill="url(#blkh)"/>
<rect x="43.1" y="187.5" width="5.7" height="5.6" rx="0.6" fill="url(#blkh)"/>
<path transform="translate(-565.3 0)" d="M640.8 230.6 L638.9 230.8 Q638.6 229.3 636.8 229.3 Q635.4 229.4 635.4 231 V250 L634.4 267 L633.6 267 L631.8 250 V231 Q631.8 227.2 636 227.2 Q640.4 227.2 640.8 230.6 Z" fill="#161617"/>
<path transform="translate(0 0)" d="M640.8 230.6 L638.9 230.8 Q638.6 229.3 636.8 229.3 Q635.4 229.4 635.4 231 V250 L634.4 267 L633.6 267 L631.8 250 V231 Q631.8 227.2 636 227.2 Q640.4 227.2 640.8 230.6 Z" fill="#161617"/>
<g>
<rect x="105.5" y="232.4" width="30.6" height="6.2" rx="1.6" fill="url(#blk)"/>
<rect x="108.5" y="223.6" width="24" height="6.2" rx="2.2" fill="#1d1d1f"/>
<rect x="110" y="224.4" width="21" height="1.6" rx=".8" fill="#4a4b4f"/>
<path d="M116.3 224 H126.7 V237 Q126.7 240.6 123.5 240.6 H119.5 Q116.3 240.6 116.3 237 Z" fill="#1b1b1d"/>
<ellipse cx="120.6" cy="226.6" rx="3.6" ry="2.1" fill="#22b35a"/>
</g>
<g>
<path d="M171 231.6 H180.5 L184 226.4 H192 V227 H232.5 V225 H243.6 L248 231.8 H260.8 V239 H248 L243.6 245 H232.5 V242.8 H192 V243.6 H184 L180.5 239 H171 Z" fill="#f3efe9" stroke="#f3efe9" stroke-width=".5" opacity=".8" stroke-linejoin="round"/>
<rect x="171.9" y="232.5" width="9" height="5.6" rx="1" fill="#1e1e20"/>
<path d="M179.5 232 L183.5 228.5 V241 L179.5 238.6 Z" fill="#2a2a2d"/>
<rect x="182.5" y="226.3" width="8.8" height="16.8" rx="2.2" fill="url(#blk2)"/>
<rect x="190.6" y="227.5" width="43" height="14.6" fill="url(#blk2)"/>
<rect x="200" y="233.4" width="22" height="2.6" fill="#38393c" opacity=".7"/>
<rect x="233" y="225.5" width="10.2" height="19" rx="2.4" fill="url(#blk2)"/>
<rect x="236" y="225.8" width="1" height="18.4" fill="#1a1a1c"/><rect x="239.4" y="225.8" width="1" height="18.4" fill="#1a1a1c"/>
<rect x="185.4" y="226.6" width="1" height="16.2" fill="#1a1a1c"/><rect x="188.2" y="226.6" width="1" height="16.2" fill="#1a1a1c"/>
<path d="M243 229.5 L248 232.4 V238.2 L243 241 Z" fill="#2a2a2d"/>
<rect x="247.5" y="232.5" width="12.8" height="5.6" rx="1" fill="#1e1e20"/>
</g>
<path d="M288.7 168.5 Q287.5 169 287.5 172 V177 L286.6 181.4 H290.4 L291 182.4 H295.8 L296.4 181.4 H300 L299.3 177 V172 Q299.3 169 298.1 168.5 Q297 168.6 297.1 171.8 A3.65 3.65 0 0 1 289.8 171.8 Q289.8 168.6 288.7 168.5 Z" fill="#111"/>
<rect x="297.5" y="231.6" width="21.400000000000002" height="7.199999999999999" rx="1.6" fill="#f2ede6" opacity="0.55"/>
<rect x="304.8" y="223.4" width="6.800000000000001" height="9.5" rx="1.2" fill="#f2ede6" opacity="0.55"/>
<rect x="298.3" y="232.4" width="19.8" height="5.6" rx="1.2" fill="url(#blk)"/>
<rect x="305.5" y="223.9" width="5.4" height="9.5" rx="1" fill="url(#blkh)"/>
<rect x="299.3" y="236.9" width="17.8" height="1.1" fill="#0a0a0a"/>
<rect x="373.9" y="183.6" width="5.8" height="46" rx="1" fill="url(#blkh)"/>
<rect x="374" y="163.4" width="6.6" height="6" rx=".6" fill="#66747b"/><rect x="375.2" y="169.4" width="4.2" height="10.4" fill="#e3e6e0"/><rect x="374" y="163.2" width="6.6" height="1.5" fill="#3f484d"/>
<rect x="366" y="232.4" width="22" height="6.6" rx="1.5" fill="url(#blk)"/><path d="M371.5 233 L374 227 H380.4 L383 233 Z" fill="#1a1a1c"/>
<path d="M450.6 213.4 H457 V223.4 L466.6 228.2 L464.2 234 L456 230.6 L453.8 229.6 L451.6 230.6 L443.4 234 L441 228.2 L450.6 223.4 Z" fill="#1b1b1d"/>
<path d="M452 214 V223" stroke="#4a4b4f" stroke-width="1" fill="none"/>
<rect x="449.8" y="197.2" width="8.2" height="5.6" rx=".8" fill="url(#blkh)"/><rect x="449" y="202.2" width="9.8" height="7.8" rx="1" fill="url(#blkh)"/><rect x="449" y="205.6" width="9.8" height="1" fill="#0c0c0d"/>
<path d="M450 183.6 H457.2 V186.6 Q459.2 187 459.2 189 V193 Q459.2 194.4 457.8 194.4 H449.4 Q448 194.4 448 193 V189 Q448 187 450 186.6 Z" fill="url(#gry)"/><ellipse cx="453.6" cy="183.9" rx="3.6" ry="1" fill="#b4c8d1"/>
<path d="M448.6 169 H459.9 L459.4 179 Q454.2 180.6 449.1 179 Z" fill="url(#gry)"/><ellipse cx="454.25" cy="168.6" rx="6.9" ry="2.3" fill="#33393e"/><ellipse cx="454.25" cy="168.8" rx="5" ry="1.3" fill="#7e97a3"/>
<path d="M512.4 187.0Q532.4 182.5 552.4 185.5 M513.4 190.5Q532.4 185.0 551.4 191.0 M519.4 183.0Q532.4 193.5 545.4 182.5 M524.4 182.0L532.4 191.5L540.9 182.0 M515.4 184.5Q528.4 185.5 532.4 191.5Q536.4 185.5 549.4 188.0" fill="none" stroke="#79c7ee" stroke-width=".8"/>
<rect x="524.9" y="192.5" width="15" height="7.2" rx="1.5" fill="url(#blkh)"/>
<rect x="524.9" y="194.7" width="15" height="1" fill="#0b0b0c"/>
<rect x="526.6999999999999" y="199.5" width="11.4" height="18.6" rx="1" fill="url(#blu)"/>
<circle cx="532.4" cy="203.1" r="2.5" fill="#e4f3fd"/><circle cx="532.4" cy="203.1" r="1.1" fill="#2a8ee0"/>
<rect x="529.1999999999999" y="207.1" width="6.4" height="3.4" fill="#0b4f98"/><rect x="529.1999999999999" y="211.9" width="6.4" height="3.6" fill="#d7ecfb" opacity=".85"/>
<rect x="527.6" y="217.9" width="9.6" height="6.2" fill="url(#blkh)"/>
<rect x="530.2" y="224" width="4.6" height="9" fill="url(#blkh)"/>
<rect x="519.3" y="231.3" width="25.8" height="7.6" rx="1.8" fill="#f2ede6" opacity=".7"/><rect x="520" y="232" width="24.4" height="6.2" rx="1.4" fill="url(#blk)"/><rect x="528" y="230.6" width="9" height="2.4" rx="1" fill="#19191b"/>
<rect x="587.4" y="231.79999999999998" width="24.8" height="7.6" rx="1.6" fill="#f2ede6" opacity="0.85"/>
<rect x="597.1999999999999" y="223.1" width="5.199999999999999" height="10" rx="1.2" fill="#f2ede6" opacity="0.85"/>
<rect x="588.1999999999999" y="232.6" width="23.2" height="6" rx="1.2" fill="url(#blk)"/>
<rect x="597.9" y="223.6" width="3.8" height="10" rx="1" fill="url(#blkh)"/>
<rect x="589.1999999999999" y="237.5" width="21.2" height="1.1" fill="#0a0a0a"/>
<rect x="659" y="232.2" width="16.8" height="6.6" rx="1.4" fill="#efe7dc" opacity=".75"/><rect x="659.6" y="232.9" width="15.6" height="5.3" rx="1" fill="url(#blk)"/><rect x="666.4" y="232.4" width="2.2" height="6.3" fill="#0d0d0e"/>
<rect x="305.2" y="124" width="6.4" height="27.5" rx="1.2" fill="url(#blkh)"/><rect x="311" y="134.5" width="6" height="7" fill="url(#blk)"/><rect x="316" y="133" width="6.4" height="10" rx="1.6" fill="url(#blk)"/>
<rect x="324.2" y="132" width="6.8" height="12" rx="2" fill="url(#blk)"/><rect x="330.5" y="135.5" width="2.6" height="5" fill="#1a1a1c"/>
<path d="M306.3 107.8 V98.4 Q306.3 96.6 307.6 95.6 L308.8 94.7 Q309.5 94.2 310.4 94.2 H319.9 V99.1 H312.4 Q311.4 99.1 311.4 100.1 V107.8 Z" fill="#1b1b1d"/><path d="M307.6 106 V98.6 Q307.6 97.2 308.6 96.4" stroke="#505155" stroke-width=".8" fill="none"/>
<rect x="388" y="93.7" width="10.6" height="5.6" rx="1.2" fill="url(#blk)"/><rect x="398" y="94.7" width="8.8" height="3.6" rx=".8" fill="url(#blk)"/><rect x="391" y="93.7" width="1" height="5.6" fill="#0c0c0d"/>
<rect x="754.8" y="144.4" width="6.4" height="42.8" rx="1.2" fill="url(#blkh)"/>
<rect x="754.6" y="124" width="6.5" height="6" rx=".6" fill="#66747b"/><rect x="755.9" y="130" width="4" height="11.2" fill="#e3e6e0"/><rect x="754.6" y="123.8" width="6.5" height="1.5" fill="#3f484d"/>
<rect x="753.8" y="189.2" width="7.6" height="2.6" rx=".8" fill="#151516"/><path d="M755 191.4 H761 V196.4 Q761 199.2 758.2 199.2 H755.6 Q754.6 199.2 754.4 198 H749.4 Q748.4 198 748.4 197 V194.4 Q748.4 193.4 749.4 193.4 H755 Z" fill="#1b1b1d"/>
<rect x="748.5" y="218.8" width="7" height="4.4" rx=".8" fill="url(#blk)"/><rect x="754.8" y="217" width="6.8" height="7.6" rx="1.6" fill="url(#blk)"/>
<rect x="754.8" y="233.2" width="10.2" height="4.6" rx="1" fill="url(#blk)"/><rect x="760" y="232.8" width="1.8" height="5.4" fill="#0d0d0e"/>
<path d="M740 252.5Q760 248 780 251 M741 256Q760 250.5 779 256.5 M747 248.5Q760 259 773 248 M752 247.5L760 257L768.5 247.5 M743 250Q756 251 760 257Q764 251 777 253.5" fill="none" stroke="#79c7ee" stroke-width=".8"/>
<rect x="752.5" y="258" width="15" height="7.2" rx="1.5" fill="url(#blkh)"/>
<rect x="752.5" y="260.2" width="15" height="1" fill="#0b0b0c"/>
<rect x="754.3" y="265" width="11.4" height="18.6" rx="1" fill="url(#blu)"/>
<circle cx="760" cy="268.6" r="2.5" fill="#e4f3fd"/><circle cx="760" cy="268.6" r="1.1" fill="#2a8ee0"/>
<rect x="756.8" y="272.6" width="6.4" height="3.4" fill="#0b4f98"/><rect x="756.8" y="277.4" width="6.4" height="3.6" fill="#d7ecfb" opacity=".85"/>
<rect x="755.2" y="283.4" width="9.6" height="6.2" fill="url(#blkh)"/>
<path d="M756.2 289.4 H761.4 V296.6 Q761.4 300.3 757.6 300.3 H749.2 V295.9 H754.8 Q756.2 295.9 756.2 294.5 Z" fill="#1b1b1d"/><rect x="755.6" y="289.2" width="6.4" height="2" rx=".6" fill="#111"/>
<path d="M0 233.35 H7.1 V230.5 L14.1 235.7 L7.1 240.89999999999998 V238.04999999999998 H0 Z" fill="#1b95ea"/>
<path d="M435 135.2 H441.7 V132.6 L449.2 137.7 L441.7 142.79999999999998 V140.2 H435 Z" fill="#1b95ea"/>
<path d="M486.4 93.5 H492.5 V90.89999999999999 L500.2 96.1 L492.5 101.3 V98.69999999999999 H486.4 Z" fill="#1b95ea"/>
<path d="M764 218.7 H770.5 V216.2 L778 221.2 L770.5 226.2 V223.7 H764 Z" fill="#1b95ea"/>
<path d="M340.5 347.8 H347.5 V345.2 L354.0 349.8 L347.5 354.40000000000003 V351.8 H340.5 Z" fill="#1b95ea"/>
<path d="M30.7 185.6 H36.3 V192.5 H38.8 L33.5 200.2 L28.1 192.5 H30.7 Z" fill="#1b95ea"/>
<path d="M596.8 125.4 V119.4 H594 L598.6 112.4 L603.2 119.4 H600.4 V125.4 Z" fill="#1b95ea"/>
<path d="M45.6 187 L45.6 298.5" stroke="#b428aa" stroke-opacity=".52" stroke-width="1.15" fill="none"/>
<circle cx="45.6" cy="187" r="2.1" fill="#c9169c"/>
<path d="M97 228 L97 298.5" stroke="#b428aa" stroke-opacity=".52" stroke-width="1.15" fill="none"/>
<circle cx="97.1" cy="227" r="1.9" fill="#c9169c"/>
<path d="M120.3 228 L120.3 298.5" stroke="#b428aa" stroke-opacity=".52" stroke-width="1.15" fill="none"/>
<circle cx="120.4" cy="226.6" r="1.9" fill="#c9169c"/>
<path d="M209.5 243 L209.5 298.5" stroke="#b428aa" stroke-opacity=".52" stroke-width="1.15" fill="none"/>
<path d="M292.8 188 L292.8 298.5" stroke="#b428aa" stroke-opacity=".52" stroke-width="1.15" fill="none"/>
<circle cx="292.9" cy="188" r="1.8" fill="#c9169c"/>
<path d="M308.7 236 L308.7 298.5" stroke="#b428aa" stroke-opacity=".52" stroke-width="1.15" fill="none"/>
<circle cx="308.6" cy="236" r="1.3" fill="#c9169c"/>
<path d="M376.8 237 L376.8 298.5" stroke="#b428aa" stroke-opacity=".52" stroke-width="1.15" fill="none"/>
<circle cx="376.8" cy="236.5" r="1.3" fill="#c9169c"/>
<path d="M453.6 221 L453.6 298.5" stroke="#b428aa" stroke-opacity=".52" stroke-width="1.15" fill="none"/>
<circle cx="453.7" cy="220.8" r="1.7" fill="#c9169c"/>
<path d="M532.2 236 L532.2 298.5" stroke="#b428aa" stroke-opacity=".52" stroke-width="1.15" fill="none"/>
<circle cx="532.3" cy="235.6" r="1.5" fill="#c9169c"/>
<path d="M599.4 236.5 L599.4 298.5" stroke="#b428aa" stroke-opacity=".52" stroke-width="1.15" fill="none"/>
<circle cx="599.5" cy="236" r="1.6" fill="#c9169c"/>
<path d="M668 235.8 L668 298.5" stroke="#b428aa" stroke-opacity=".52" stroke-width="1.15" fill="none"/>
<circle cx="667.8" cy="235.6" r="1.5" fill="#c9169c"/>
<path d="M308.6 81 L308.6 104.6" stroke="#b428aa" stroke-opacity=".52" stroke-width="1.15" fill="none"/>
<circle cx="308.5" cy="104.7" r="1.5" fill="#c9169c"/>
<path d="M396.7 80 L396.7 96.5" stroke="#b428aa" stroke-opacity=".52" stroke-width="1.15" fill="none"/>
<circle cx="396.7" cy="96.5" r="1.6" fill="#c9169c"/>
<path d="M327.4 121.4 L327.4 137.6" stroke="#b428aa" stroke-opacity=".52" stroke-width="1.15" fill="none"/>
<circle cx="327.6" cy="137.6" r="1.8" fill="#c9169c"/>
<path d="M282 137.5 L307.6 137.5" stroke="#b428aa" stroke-opacity=".52" stroke-width="1.15" fill="none"/>
<circle cx="307.6" cy="137.5" r="1.7" fill="#c9169c"/>
<path d="M454 191.6 L483 191.6" stroke="#b428aa" stroke-opacity=".52" stroke-width="1.15" fill="none"/>
<circle cx="453.6" cy="191.6" r="1.7" fill="#c9169c"/>
<path d="M454.4 208 L483 208" stroke="#b428aa" stroke-opacity=".52" stroke-width="1.15" fill="none"/>
<circle cx="454.4" cy="208" r="1.7" fill="#c9169c"/>
<path d="M757.2 193.9 L788 193.9" stroke="#b428aa" stroke-opacity=".52" stroke-width="1.15" fill="none"/>
<circle cx="757.2" cy="193.9" r="1.9" fill="#c9169c"/>
<path d="M757 221 L788 221" stroke="#b428aa" stroke-opacity=".52" stroke-width="1.15" fill="none"/>
<circle cx="757" cy="220.9" r="1.9" fill="#c9169c"/>
<path d="M757.2 235.4 L788 235.4" stroke="#b428aa" stroke-opacity=".52" stroke-width="1.15" fill="none"/>
<circle cx="757.2" cy="235.4" r="1.7" fill="#c9169c"/>
<path d="M758.6 298 L788 298" stroke="#b428aa" stroke-opacity=".52" stroke-width="1.15" fill="none"/>
<circle cx="758.4" cy="298" r="1.6" fill="#c9169c"/>
<circle cx="45.4" cy="307.6" r="6.35" fill="#fff" stroke="#222" stroke-width="1.15"/>
<text x="45.4" y="311.40000000000003" font-size="10.6" text-anchor="middle" fill="#111">1</text>
<circle cx="96.9" cy="307.6" r="6.35" fill="#fff" stroke="#222" stroke-width="1.15"/>
<text x="96.9" y="311.40000000000003" font-size="10.6" text-anchor="middle" fill="#111">2</text>
<circle cx="120.2" cy="307.6" r="6.35" fill="#fff" stroke="#222" stroke-width="1.15"/>
<text x="120.2" y="311.40000000000003" font-size="10.6" text-anchor="middle" fill="#111">3</text>
<circle cx="209.4" cy="307.6" r="6.35" fill="#fff" stroke="#222" stroke-width="1.15"/>
<text x="209.4" y="311.40000000000003" font-size="10.6" text-anchor="middle" fill="#111">4</text>
<circle cx="292.8" cy="307.7" r="6.35" fill="#fff" stroke="#222" stroke-width="1.15"/>
<text x="292.8" y="311.5" font-size="10.6" text-anchor="middle" fill="#111">5</text>
<circle cx="308.8" cy="307.7" r="6.35" fill="#fff" stroke="#222" stroke-width="1.15"/>
<text x="308.8" y="311.5" font-size="10.6" text-anchor="middle" fill="#111">6</text>
<circle cx="376.8" cy="307.6" r="6.35" fill="#fff" stroke="#222" stroke-width="1.15"/>
<text transform="translate(376.8 311.5) scale(.75 1)" font-size="11" stroke="#111" stroke-width=".3" text-anchor="middle" fill="#111">11</text>
<circle cx="453.4" cy="307.6" r="6.35" fill="#fff" stroke="#222" stroke-width="1.15"/>
<text transform="translate(453.4 311.5) scale(.75 1)" font-size="11" stroke="#111" stroke-width=".3" text-anchor="middle" fill="#111">12</text>
<circle cx="532.1" cy="307.6" r="6.35" fill="#fff" stroke="#222" stroke-width="1.15"/>
<text transform="translate(532.1 311.5) scale(.75 1)" font-size="11" stroke="#111" stroke-width=".3" text-anchor="middle" fill="#111">15</text>
<circle cx="599.3" cy="307.6" r="6.35" fill="#fff" stroke="#222" stroke-width="1.15"/>
<text transform="translate(599.3 311.5) scale(.75 1)" font-size="11" stroke="#111" stroke-width=".3" text-anchor="middle" fill="#111">16</text>
<circle cx="668.1" cy="307.6" r="6.35" fill="#fff" stroke="#222" stroke-width="1.15"/>
<text transform="translate(668.1 311.5) scale(.75 1)" font-size="11" stroke="#111" stroke-width=".3" text-anchor="middle" fill="#111">17</text>
<circle cx="275.7" cy="137.2" r="6.35" fill="#fff" stroke="#222" stroke-width="1.15"/>
<text x="275.7" y="141.0" font-size="10.6" text-anchor="middle" fill="#111">7</text>
<circle cx="327.2" cy="114.8" r="6.35" fill="#fff" stroke="#222" stroke-width="1.15"/>
<text x="327.2" y="118.6" font-size="10.6" text-anchor="middle" fill="#111">8</text>
<circle cx="308.5" cy="74.5" r="6.35" fill="#fff" stroke="#222" stroke-width="1.15"/>
<text x="308.5" y="78.3" font-size="10.6" text-anchor="middle" fill="#111">9</text>
<circle cx="396.6" cy="73.6" r="6.35" fill="#fff" stroke="#222" stroke-width="1.15"/>
<text transform="translate(396.6 77.5) scale(.75 1)" font-size="11" stroke="#111" stroke-width=".3" text-anchor="middle" fill="#111">10</text>
<circle cx="489.5" cy="191.8" r="6.35" fill="none" stroke="#222" stroke-width="1.15"/>
<text transform="translate(489.5 195.70000000000002) scale(.75 1)" font-size="11" stroke="#111" stroke-width=".3" text-anchor="middle" fill="#111">14</text>
<circle cx="489.5" cy="208.4" r="6.35" fill="none" stroke="#222" stroke-width="1.15"/>
<text transform="translate(489.5 212.3) scale(.75 1)" font-size="11" stroke="#111" stroke-width=".3" text-anchor="middle" fill="#111">13</text>
<circle cx="793.8" cy="194.4" r="6.35" fill="#fff" stroke="#222" stroke-width="1.15"/>
<text transform="translate(793.8 198.3) scale(.75 1)" font-size="11" stroke="#111" stroke-width=".3" text-anchor="middle" fill="#111">21</text>
<circle cx="793.6" cy="221" r="6.35" fill="#fff" stroke="#222" stroke-width="1.15"/>
<text transform="translate(793.6 224.9) scale(.75 1)" font-size="11" stroke="#111" stroke-width=".3" text-anchor="middle" fill="#111">20</text>
<circle cx="793.6" cy="235.5" r="6.35" fill="#fff" stroke="#222" stroke-width="1.15"/>
<text transform="translate(793.6 239.4) scale(.75 1)" font-size="11" stroke="#111" stroke-width=".3" text-anchor="middle" fill="#111">19</text>
<circle cx="793.8" cy="298" r="6.35" fill="#fff" stroke="#222" stroke-width="1.15"/>
<text transform="translate(793.8 301.9) scale(.75 1)" font-size="11" stroke="#111" stroke-width=".3" text-anchor="middle" fill="#111">18</text>
<text x="349" y="131.7" font-size="11.1" fill="#111">Connect to 4mmPE pipe</text>
<text x="402.6" y="112" font-size="11.15" fill="#111">Connect to 13mmPE pipe</text>
<text transform="translate(614.8 208.2) rotate(-90)" font-size="11.1" fill="#111">Connect to 13mmPE pipe</text>
<text x="34.8" y="224.5" font-size="9.5" fill="#fff" text-anchor="middle" style="font-family:'Liberation Sans','Noto Sans CJK SC',sans-serif">或</text>
<text x="189" y="354.6" font-size="16" fill="#111">*Note: In the picture</text>
<text x="330" y="354" font-size="14" font-weight="bold" fill="#111" style="font-family:'Liberation Sans','Noto Sans CJK SC',sans-serif">：</text>
<text x="363" y="354.6" font-size="16" fill="#111">Represents the direction of water flow</text>
</svg></body></html>
